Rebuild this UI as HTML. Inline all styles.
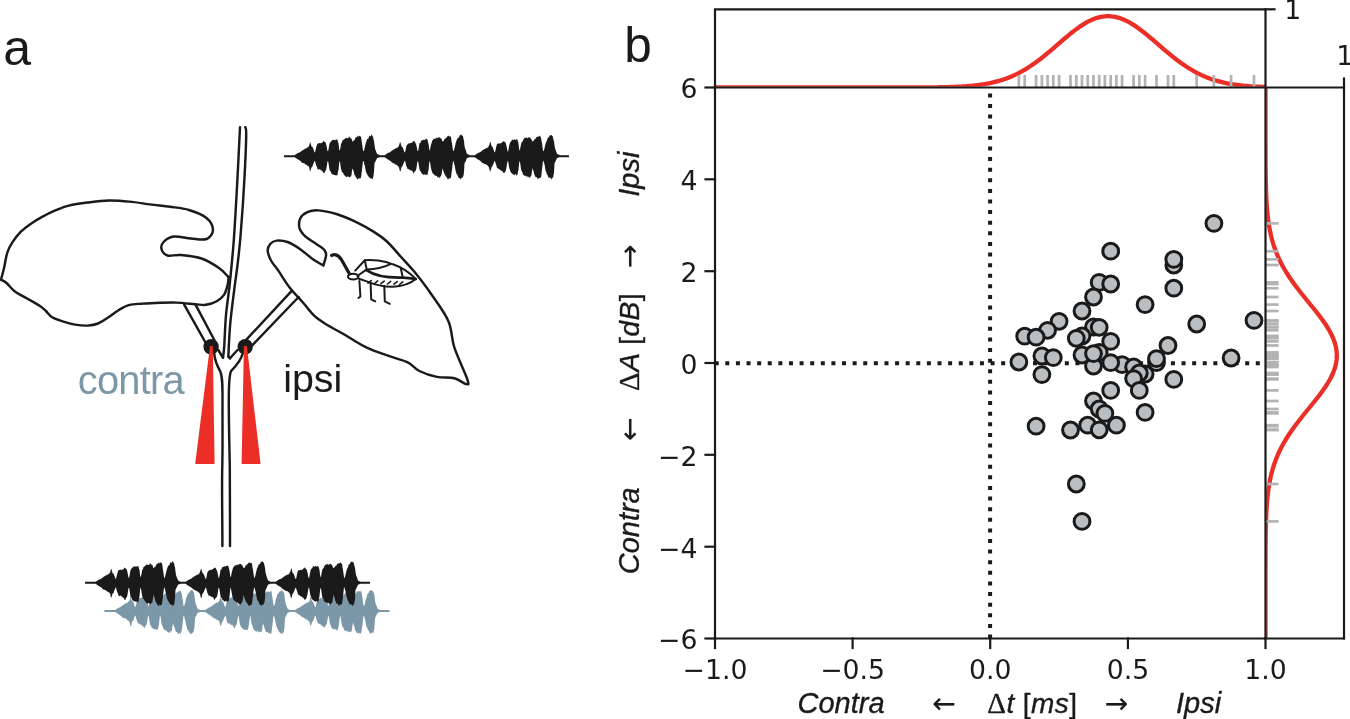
<!DOCTYPE html>
<html lang="en"><head><meta charset="utf-8"><title>Figure: contra / ipsi time and amplitude differences</title>
<style>html,body{margin:0;padding:0;background:#fff}svg{display:block}svg{font-family:"Liberation Sans",sans-serif;fill:#1a1a1a}.dv{font-family:"DejaVu Sans","Liberation Sans",sans-serif;font-size:26.7px}.it{font-style:italic}</style></head><body>
<svg width="1350" height="719" viewBox="0 0 1350 719">
<rect width="1350" height="719" fill="#fff"/>
<g id="panel-a" fill="none" stroke="#1a1a1a" stroke-width="2.45" stroke-linecap="round" stroke-linejoin="round">
<path d="M1.0 279.7C1.9 280.2 4.0 280.9 6.3 282.8C8.6 284.7 11.1 288.6 14.6 291.2C18.1 293.8 22.9 296.1 27.1 298.5C31.3 300.9 36.5 303.7 39.6 305.8C42.7 307.9 43.8 309.1 45.9 311.0C48.0 312.9 49.4 315.6 52.2 317.3C55.0 319.0 58.8 320.2 62.6 321.4C66.4 322.6 70.9 323.9 75.1 324.6C79.3 325.3 83.8 325.8 87.6 325.6C91.4 325.4 94.6 324.9 98.1 323.5C101.6 322.1 105.0 319.6 108.5 317.3C112.0 315.1 115.4 312.1 118.9 310.0C122.4 307.9 125.6 305.9 129.4 304.9C133.2 303.8 138.3 304.0 141.9 303.7C145.5 303.4 145.3 303.4 151.0 303.2C156.7 303.0 168.7 302.4 176.0 302.6C183.3 302.8 190.0 303.8 195.0 304.2C200.0 304.6 202.4 305.3 206.0 304.8C209.6 304.3 213.8 302.9 216.8 301.2C219.8 299.5 222.2 297.6 224.0 294.9C225.8 292.2 226.8 288.0 227.6 285.0C228.4 282.0 228.4 278.3 228.6 277.0"/>
<path d="M228.5 277.0C226.9 275.5 223.5 271.1 219.0 268.0C214.5 264.9 207.8 260.7 201.5 258.5C195.2 256.3 186.7 255.5 181.0 255.0C175.3 254.5 170.8 256.5 167.5 255.5C164.2 254.5 162.1 251.3 161.5 249.0C160.9 246.7 161.9 243.6 164.0 241.5C166.1 239.4 169.5 237.0 174.0 236.5C178.5 236.0 185.6 238.1 191.0 238.5C196.4 238.9 202.8 240.4 206.5 239.0C210.2 237.6 213.0 233.5 213.0 230.0C213.0 226.5 210.5 221.3 206.5 218.0C202.5 214.7 195.1 211.9 189.0 210.0C182.9 208.1 176.5 207.7 170.0 206.8C163.5 205.9 156.8 205.3 150.0 204.4C143.2 203.5 136.3 202.2 129.4 201.6C122.5 200.9 115.5 200.3 108.5 200.5C101.5 200.7 94.2 201.7 87.6 202.5C81.0 203.3 74.4 204.2 68.8 205.6C63.2 207.0 58.7 209.0 54.2 210.9C49.7 212.8 45.5 215.0 41.7 217.1C37.9 219.2 34.8 221.0 31.3 223.4C27.8 225.8 24.0 228.6 20.9 231.7C17.8 234.8 14.8 238.7 12.5 242.2C10.2 245.7 8.7 248.4 7.3 252.6C5.9 256.8 5.2 262.7 4.2 267.2C3.2 271.7 1.5 277.6 1.0 279.7"/>
<path d="M323.4 265.5C323.8 263.7 326.1 257.4 326.1 254.7C326.2 252.0 325.1 250.9 323.7 249.2C322.2 247.5 319.8 246.3 317.4 244.7C315.0 243.0 311.6 241.1 309.2 239.3C306.8 237.5 304.5 235.9 302.9 233.9C301.2 231.9 299.8 230.1 299.3 227.5C298.9 224.9 298.9 221.1 300.2 218.5C301.5 215.9 304.4 213.5 307.4 212.2C310.4 210.8 313.5 210.1 318.3 210.4C323.1 210.7 330.1 212.1 336.4 214.0C342.7 215.9 350.0 219.1 356.3 222.1C362.6 225.1 369.2 228.9 374.3 232.1C379.4 235.3 382.6 237.4 387.0 241.5C391.4 245.6 396.0 251.4 400.6 256.5C405.2 261.6 409.2 265.5 414.4 271.8C419.5 278.1 425.8 286.2 431.5 294.5C437.2 302.8 444.7 312.5 448.5 321.4C452.3 330.3 451.2 338.0 454.4 347.7C457.6 357.4 465.6 373.8 467.5 379.8C469.4 385.9 468.2 384.2 466.0 384.0C463.8 383.8 459.2 379.5 454.4 378.3C449.5 377.1 442.8 378.1 436.9 376.9C431.0 375.7 424.2 373.4 419.3 371.0C414.4 368.6 412.6 364.7 407.7 362.3C402.8 359.9 396.8 358.8 390.0 356.4C383.2 354.0 374.6 351.4 366.8 347.7C359.0 344.0 350.0 337.8 343.4 334.0C336.8 330.2 332.1 328.0 327.3 325.0C322.5 322.0 318.6 319.8 314.7 316.2C310.8 312.6 308.0 308.3 303.8 303.5C299.6 298.7 293.6 292.6 289.4 287.2C285.2 281.8 281.5 275.3 278.5 270.9C275.5 266.5 273.1 264.3 271.3 261.0C269.5 257.7 267.9 253.9 267.7 251.0C267.5 248.1 268.9 245.5 270.4 243.8C271.9 242.1 273.8 240.9 276.7 240.6C279.6 240.3 283.6 240.6 287.5 242.0C291.4 243.4 296.0 246.3 300.2 249.2C304.4 252.1 309.0 256.5 312.9 259.2C316.8 261.9 321.6 264.4 323.4 265.5"/>
<path d="M240.0 127.3C239.6 135.7 238.5 158.7 237.5 177.5C236.5 196.3 235.1 222.1 233.8 240.0C232.5 257.9 230.9 272.5 229.6 285.0C228.3 297.5 226.9 304.7 226.0 315.0C225.1 325.3 224.7 339.6 224.2 346.7C223.7 353.8 223.2 355.8 223.0 357.6"/>
<path d="M245.3 127.3C245.5 128.6 246.3 126.6 246.2 135.0C246.1 143.4 245.4 160.8 244.5 177.5C243.6 194.2 241.8 220.4 240.6 235.0C239.4 249.6 238.6 255.8 237.5 265.0C236.4 274.2 235.4 280.5 234.2 290.0C233.0 299.5 231.3 312.6 230.4 322.0C229.5 331.4 229.1 340.9 228.8 346.7C228.5 352.5 228.5 355.0 228.4 356.6"/>
<path d="M228.4 356.6 L230 358.3"/>
<path d="M184.2 304.6 L205.2 342"/><path d="M195.4 304.4 L214.6 340.5"/>
<path d="M291.7 290.8 L246.8 339.2"/><path d="M298.6 297 L252 345.6"/>
<path d="M218.3 350 L223 357.8"/>
<path d="M214.2 353.3 C214.6 358 215.8 363.3 220 370.8 C222 375 222.6 380 222.5 400 C222.4 430 222.8 450 222.2 470 C221.8 490 222.4 520 222.4 546"/>
<path d="M237.5 350 L230 358.3"/>
<path d="M242.5 354 C241.5 358 239.5 362.5 231.2 370.8 C229.4 374 228.8 380 228.8 400 C228.8 430 229.6 450 229.8 470 C230 490 230 520 230 546"/>
</g>
<g fill="#1a1a1a"><circle cx="211.1" cy="346.7" r="7.7"/><circle cx="245.2" cy="346.7" r="7.7"/></g>
<path d="M210 346 L212.8 346 L214.6 464 L195.2 464 Z" fill="#eb2f27"/>
<path d="M243.9 346 L246.9 346 L260.6 464 L241.6 464 Z" fill="#eb2f27"/>
<g id="bug" fill="none" stroke="#1a1a1a" stroke-width="2.0" stroke-linecap="round" stroke-linejoin="round">
<path d="M331.7 255.4 C335 253.6 338 254.6 341 259 C344 264 347 269.5 349.4 273.8" stroke-width="3.3"/>
<ellipse cx="353.2" cy="276.6" rx="5.3" ry="2.9"/>
<path d="M355.2 270.6 L364.8 260.2 C372 259.4 384 260.6 393 264.3 C399 266.4 408 271 415.8 279 C411 283 402 286.4 393 286.8 C383 287 372 283.6 366.7 281.4 L359 278.8"/>
<path d="M364.8 260.2 L366.7 269.4 L357.4 276"/>
<path d="M366.7 269.4 C376 269.4 384 267.4 390.4 264.2"/>
<path d="M366.9 270.4 C374 275.4 386 278 402.8 277.6 C408 277.8 412 278.4 415.8 279" stroke-width="2.6"/>
<path d="M400.8 268.3 L402.8 277.6"/>
<path d="M368.0 283.2 l3.2 -2.6" stroke-width="1.6"/>
<path d="M374.5 283.5 l3.2 -2.6" stroke-width="1.6"/>
<path d="M381.0 283.7 l3.2 -2.6" stroke-width="1.6"/>
<path d="M387.5 284.0 l3.2 -2.6" stroke-width="1.6"/>
<path d="M394.0 284.2 l3.2 -2.6" stroke-width="1.6"/>
<path d="M399.5 284.5 l3.2 -2.6" stroke-width="1.6"/>
<path d="M359.4 281 L360.4 296.5 L358.4 298"/>
<path d="M370.6 283 L371.2 299.4 L375.2 301.4"/>
<path d="M384.3 286 L384.8 301.4 L389.8 303.8"/>
</g>
<path d="M104.5 610.05L105.0 610.05L105.5 610.05L106.0 610.05L106.5 610.05L107.0 610.05L107.5 610.05L108.0 610.05L108.5 610.05L109.0 610.05L109.5 610.05L110.0 610.05L110.5 610.05L111.0 610.05L111.5 610.05L112.0 610.05L112.5 610.05L113.0 610.05L113.5 610.05L114.0 610.05L114.5 610.05L115.0 610.05L115.5 609.80L116.0 609.41L116.5 609.03L117.0 608.78L117.5 608.46L118.0 608.09L118.5 607.67L119.0 607.76L119.5 607.56L120.0 607.23L120.5 607.00L121.0 606.39L121.5 606.12L122.0 605.96L122.5 605.61L123.0 605.17L123.5 604.46L124.0 604.23L124.5 604.38L125.0 603.62L125.5 603.56L126.0 603.09L126.5 603.22L127.0 603.15L127.5 602.41L128.0 601.89L128.5 601.67L129.0 601.05L129.5 600.57L130.0 599.18L130.5 596.55L131.0 597.30L131.5 599.57L132.0 601.19L132.5 601.08L133.0 601.71L133.5 602.53L134.0 604.13L134.5 605.62L135.0 607.27L135.5 607.06L136.0 604.96L136.5 602.41L137.0 601.04L137.5 599.06L138.0 597.99L138.5 598.52L139.0 598.12L139.5 598.29L140.0 597.93L140.5 597.56L141.0 598.15L141.5 597.31L142.0 598.16L142.5 597.23L143.0 597.21L143.5 596.39L144.0 595.18L144.5 595.06L145.0 596.84L145.5 597.31L146.0 597.92L146.5 598.09L147.0 600.05L147.5 602.96L148.0 606.06L148.5 606.46L149.0 604.08L149.5 601.21L150.0 598.34L150.5 597.59L151.0 597.64L151.5 596.33L152.0 595.03L152.5 595.44L153.0 594.72L153.5 595.27L154.0 595.03L154.5 594.48L155.0 594.28L155.5 594.95L156.0 594.13L156.5 594.61L157.0 593.53L157.5 593.82L158.0 594.67L158.5 596.77L159.0 598.22L159.5 602.74L160.0 605.31L160.5 604.94L161.0 602.39L161.5 599.28L162.0 597.30L162.5 597.25L163.0 595.88L163.5 595.16L164.0 594.77L164.5 594.12L165.0 593.58L165.5 593.41L166.0 592.24L166.5 592.79L167.0 592.27L167.5 592.83L168.0 592.41L168.5 591.53L169.0 591.85L169.5 591.48L170.0 592.17L170.5 592.71L171.0 592.36L171.5 592.25L172.0 593.35L172.5 594.61L173.0 596.48L173.5 596.31L174.0 595.56L174.5 594.97L175.0 594.70L175.5 594.11L176.0 592.78L176.5 592.57L177.0 592.75L177.5 591.88L178.0 592.17L178.5 590.48L179.0 591.36L179.5 591.38L180.0 590.91L180.5 590.63L181.0 592.02L181.5 592.88L182.0 595.32L182.5 598.87L183.0 601.78L183.5 605.69L184.0 606.16L184.5 604.85L185.0 603.28L185.5 601.52L186.0 598.51L186.5 596.88L187.0 596.30L187.5 594.27L188.0 594.53L188.5 593.25L189.0 592.65L189.5 592.17L190.0 591.59L190.5 590.81L191.0 589.99L191.5 589.95L192.0 590.57L192.5 589.67L193.0 590.95L193.5 592.23L194.0 592.88L194.5 596.06L195.0 600.20L195.5 603.14L196.0 604.42L196.5 606.00L197.0 607.09L197.5 608.40L198.0 609.05L198.5 609.16L199.0 609.40L199.5 609.64L200.0 609.89L200.5 610.05L201.0 610.05L201.5 610.05L202.0 610.05L202.5 610.05L203.0 610.05L203.5 610.05L204.0 610.05L204.5 610.05L205.0 610.05L205.5 609.80L206.0 609.41L206.5 609.03L207.0 608.74L207.5 608.46L208.0 607.92L208.5 607.83L209.0 607.57L209.5 607.46L210.0 607.08L210.5 607.10L211.0 606.66L211.5 606.32L212.0 606.08L212.5 605.22L213.0 604.94L213.5 605.02L214.0 604.19L214.5 604.34L215.0 603.84L215.5 603.29L216.0 602.97L216.5 602.98L217.0 602.50L217.5 602.72L218.0 601.88L218.5 601.68L219.0 601.48L219.5 600.60L220.0 599.04L220.5 596.97L221.0 597.57L221.5 599.18L222.0 601.00L222.5 601.74L223.0 601.51L223.5 602.80L224.0 604.13L224.5 605.84L225.0 607.18L225.5 606.98L226.0 604.79L226.5 602.70L227.0 601.04L227.5 599.81L228.0 598.06L228.5 598.61L229.0 597.85L229.5 598.43L230.0 597.72L230.5 597.90L231.0 597.71L231.5 597.54L232.0 597.08L232.5 597.54L233.0 597.00L233.5 596.48L234.0 595.92L234.5 595.58L235.0 595.73L235.5 596.40L236.0 597.73L236.5 597.97L237.0 600.79L237.5 603.06L238.0 605.62L238.5 606.10L239.0 604.02L239.5 600.91L240.0 598.19L240.5 597.48L241.0 597.01L241.5 596.91L242.0 596.26L242.5 595.27L243.0 595.61L243.5 595.11L244.0 595.04L244.5 594.18L245.0 593.88L245.5 593.88L246.0 595.19L246.5 594.08L247.0 593.96L247.5 594.56L248.0 594.33L248.5 597.17L249.0 598.32L249.5 602.15L250.0 605.54L250.5 604.45L251.0 602.40L251.5 599.09L252.0 597.19L252.5 596.65L253.0 594.95L253.5 594.12L254.0 593.64L254.5 593.70L255.0 592.63L255.5 593.97L256.0 593.05L256.5 592.95L257.0 592.43L257.5 592.68L258.0 592.63L258.5 591.82L259.0 592.25L259.5 592.16L260.0 592.45L260.5 593.24L261.0 592.72L261.5 592.63L262.0 593.40L262.5 595.59L263.0 596.40L263.5 595.56L264.0 594.89L264.5 594.96L265.0 593.50L265.5 592.85L266.0 592.63L266.5 591.70L267.0 591.59L267.5 591.79L268.0 591.73L268.5 591.35L269.0 591.73L269.5 591.99L270.0 591.52L270.5 591.72L271.0 590.45L271.5 591.46L272.0 595.44L272.5 597.78L273.0 601.90L273.5 605.20L274.0 606.19L274.5 605.31L275.0 603.13L275.5 601.13L276.0 598.51L276.5 597.60L277.0 595.32L277.5 594.12L278.0 593.65L278.5 593.57L279.0 592.08L279.5 591.66L280.0 590.99L280.5 591.57L281.0 591.30L281.5 589.24L282.0 589.92L282.5 591.48L283.0 591.18L283.5 592.22L284.0 593.21L284.5 595.75L285.0 599.84L285.5 602.96L286.0 604.33L286.5 605.99L287.0 607.20L287.5 608.41L288.0 609.01L288.5 609.16L289.0 609.40L289.5 609.64L290.0 609.89L290.5 610.05L291.0 610.05L291.5 610.05L292.0 610.05L292.5 610.05L293.0 610.05L293.5 610.05L294.0 610.05L294.5 610.05L295.0 610.05L295.5 609.80L296.0 609.41L296.5 609.03L297.0 608.66L297.5 608.29L298.0 608.14L298.5 607.90L299.0 607.68L299.5 607.47L300.0 607.19L300.5 606.98L301.0 606.47L301.5 606.13L302.0 605.74L302.5 605.44L303.0 605.04L303.5 604.94L304.0 604.53L304.5 604.09L305.0 603.67L305.5 603.66L306.0 603.15L306.5 602.77L307.0 602.91L307.5 602.70L308.0 602.54L308.5 602.02L309.0 601.72L309.5 601.17L310.0 599.03L310.5 597.11L311.0 596.65L311.5 599.49L312.0 601.40L312.5 601.42L313.0 601.74L313.5 603.02L314.0 604.59L314.5 605.71L315.0 607.18L315.5 607.19L316.0 605.16L316.5 602.56L317.0 600.87L317.5 599.20L318.0 598.79L318.5 597.87L319.0 598.71L319.5 598.51L320.0 598.06L320.5 598.57L321.0 597.65L321.5 598.31L322.0 596.94L322.5 597.43L323.0 596.68L323.5 596.58L324.0 596.09L324.5 595.10L325.0 596.83L325.5 596.77L326.0 597.94L326.5 598.24L327.0 600.74L327.5 602.81L328.0 605.65L328.5 606.10L329.0 603.83L329.5 601.44L330.0 598.81L330.5 598.27L331.0 597.20L331.5 595.78L332.0 594.99L332.5 594.82L333.0 595.21L333.5 594.22L334.0 594.84L334.5 594.11L335.0 594.42L335.5 594.53L336.0 595.15L336.5 594.78L337.0 593.98L337.5 594.18L338.0 595.09L338.5 596.41L339.0 598.40L339.5 602.78L340.0 605.28L340.5 604.92L341.0 601.61L341.5 598.97L342.0 597.19L342.5 596.11L343.0 596.30L343.5 594.63L344.0 593.69L344.5 594.35L345.0 593.82L345.5 592.37L346.0 592.96L346.5 592.92L347.0 592.26L347.5 592.51L348.0 591.74L348.5 593.12L349.0 592.19L349.5 591.84L350.0 592.12L350.5 593.22L351.0 593.04L351.5 592.29L352.0 593.57L352.5 595.67L353.0 596.48L353.5 596.51L354.0 594.98L354.5 594.73L355.0 594.98L355.5 593.47L356.0 592.95L356.5 592.69L357.0 591.33L357.5 590.91L358.0 592.18L358.5 590.64L359.0 591.75L359.5 591.33L360.0 590.65L360.5 591.96L361.0 590.55L361.5 591.64L362.0 594.99L362.5 597.88L363.0 602.26L363.5 605.22L364.0 606.32L364.5 604.98L365.0 603.38L365.5 601.02L366.0 598.79L366.5 597.48L367.0 595.87L367.5 593.87L368.0 593.61L368.5 593.26L369.0 591.62L369.5 590.89L370.0 590.81L370.5 590.36L371.0 590.68L371.5 589.77L372.0 590.50L372.5 591.43L373.0 590.66L373.5 592.31L374.0 593.59L374.5 596.21L375.0 600.43L375.5 603.19L376.0 604.26L376.5 605.82L377.0 607.06L377.5 608.39L378.0 608.98L378.5 609.16L379.0 609.40L379.5 609.64L380.0 609.89L380.5 610.05L381.0 610.05L381.5 610.05L382.0 610.05L382.5 610.05L383.0 610.05L383.5 610.05L384.0 610.05L384.5 610.05L385.0 610.05L385.5 610.05L386.0 610.05L386.5 610.05L387.0 610.05L387.5 610.05L388.0 610.05L388.5 610.05L389.0 610.05L389.5 610.05L389.5 611.95L389.0 611.95L388.5 611.95L388.0 611.95L387.5 611.95L387.0 611.95L386.5 611.95L386.0 611.95L385.5 611.95L385.0 611.95L384.5 611.95L384.0 611.95L383.5 611.95L383.0 611.95L382.5 611.95L382.0 611.95L381.5 611.95L381.0 611.95L380.5 611.95L380.0 612.06L379.5 612.22L379.0 612.37L378.5 612.53L378.0 612.69L377.5 613.07L377.0 614.04L376.5 615.04L376.0 616.17L375.5 616.94L375.0 618.30L374.5 627.25L374.0 629.63L373.5 633.05L373.0 633.26L372.5 631.95L372.0 632.43L371.5 633.66L371.0 632.78L370.5 633.48L370.0 634.05L369.5 632.57L369.0 631.58L368.5 630.27L368.0 630.04L367.5 628.64L367.0 627.50L366.5 627.09L366.0 624.37L365.5 621.79L365.0 619.14L364.5 617.69L364.0 615.90L363.5 615.92L363.0 619.72L362.5 624.57L362.0 627.82L361.5 631.44L361.0 633.22L360.5 634.13L360.0 632.35L359.5 634.08L359.0 632.42L358.5 634.40L358.0 632.34L357.5 633.15L357.0 632.75L356.5 632.78L356.0 631.60L355.5 630.78L355.0 629.98L354.5 627.07L354.0 625.76L353.5 624.00L353.0 622.28L352.5 625.60L352.0 629.50L351.5 630.91L351.0 632.52L350.5 631.53L350.0 631.82L349.5 631.56L349.0 632.81L348.5 631.37L348.0 631.97L347.5 631.41L347.0 630.26L346.5 631.81L346.0 631.00L345.5 631.05L345.0 630.59L344.5 630.61L344.0 629.39L343.5 627.83L343.0 627.56L342.5 626.46L342.0 625.54L341.5 623.21L341.0 620.07L340.5 616.58L340.0 615.82L339.5 619.24L339.0 624.23L338.5 627.18L338.0 628.54L337.5 630.20L337.0 630.54L336.5 629.39L336.0 630.46L335.5 628.81L335.0 629.20L334.5 629.20L334.0 629.42L333.5 629.21L333.0 628.48L332.5 628.80L332.0 628.43L331.5 627.67L331.0 625.52L330.5 624.69L330.0 624.15L329.5 621.02L329.0 617.98L328.5 615.70L328.0 616.46L327.5 619.69L327.0 622.65L326.5 624.49L326.0 624.95L325.5 625.83L325.0 626.43L324.5 627.95L324.0 627.46L323.5 626.80L323.0 626.67L322.5 625.64L322.0 625.92L321.5 625.43L321.0 624.50L320.5 624.58L320.0 624.14L319.5 624.11L319.0 623.39L318.5 623.62L318.0 623.86L317.5 622.29L317.0 620.86L316.5 619.71L316.0 617.79L315.5 615.81L315.0 615.73L314.5 617.32L314.0 618.45L313.5 619.62L313.0 621.34L312.5 621.84L312.0 621.87L311.5 624.14L311.0 625.81L310.5 625.91L310.0 623.63L309.5 621.72L309.0 621.14L308.5 621.26L308.0 620.62L307.5 620.15L307.0 619.37L306.5 619.45L306.0 619.41L305.5 618.82L305.0 618.52L304.5 618.15L304.0 618.01L303.5 617.62L303.0 617.36L302.5 617.27L302.0 616.98L301.5 616.68L301.0 616.02L300.5 615.45L300.0 615.32L299.5 614.74L299.0 614.44L298.5 614.33L298.0 614.06L297.5 613.56L297.0 613.32L296.5 612.97L296.0 612.59L295.5 612.20L295.0 611.95L294.5 611.95L294.0 611.95L293.5 611.95L293.0 611.95L292.5 611.95L292.0 611.95L291.5 611.95L291.0 611.95L290.5 611.95L290.0 612.06L289.5 612.22L289.0 612.37L288.5 612.53L288.0 612.69L287.5 612.93L287.0 614.06L286.5 614.93L286.0 615.86L285.5 617.22L285.0 618.00L284.5 626.98L284.0 630.45L283.5 632.42L283.0 632.62L282.5 633.93L282.0 634.29L281.5 633.06L281.0 633.49L280.5 633.30L280.0 632.50L279.5 632.47L279.0 630.77L278.5 631.53L278.0 629.26L277.5 628.74L277.0 627.78L276.5 626.22L276.0 624.33L275.5 622.03L275.0 619.57L274.5 617.60L274.0 615.67L273.5 615.91L273.0 620.28L272.5 624.26L272.0 628.62L271.5 632.41L271.0 633.98L270.5 633.40L270.0 633.72L269.5 632.83L269.0 633.07L268.5 633.50L268.0 632.60L267.5 632.09L267.0 632.15L266.5 632.19L266.0 631.44L265.5 630.91L265.0 629.13L264.5 628.23L264.0 626.26L263.5 624.83L263.0 623.25L262.5 625.74L262.0 630.92L261.5 632.17L261.0 630.99L260.5 632.19L260.0 631.56L259.5 632.36L259.0 631.95L258.5 632.68L258.0 630.85L257.5 630.54L257.0 631.91L256.5 631.75L256.0 630.96L255.5 631.18L255.0 631.18L254.5 630.08L254.0 629.56L253.5 628.71L253.0 628.03L252.5 625.80L252.0 624.70L251.5 623.88L251.0 619.98L250.5 616.56L250.0 615.79L249.5 619.64L249.0 623.88L248.5 626.65L248.0 628.96L247.5 630.54L247.0 629.45L246.5 629.84L246.0 629.94L245.5 629.80L245.0 629.99L244.5 629.88L244.0 628.81L243.5 629.40L243.0 629.53L242.5 628.77L242.0 627.66L241.5 627.27L241.0 626.86L240.5 625.66L240.0 624.85L239.5 621.57L239.0 617.89L238.5 615.81L238.0 616.43L237.5 619.47L237.0 622.50L236.5 624.78L236.0 625.18L235.5 625.77L235.0 627.58L234.5 628.57L234.0 627.44L233.5 626.88L233.0 625.72L232.5 625.36L232.0 624.95L231.5 625.17L231.0 624.49L230.5 624.66L230.0 624.02L229.5 623.62L229.0 623.28L228.5 624.03L228.0 623.00L227.5 622.92L227.0 621.70L226.5 619.66L226.0 617.38L225.5 615.71L225.0 615.93L224.5 617.33L224.0 618.38L223.5 619.76L223.0 621.28L222.5 621.33L222.0 622.17L221.5 624.11L221.0 625.75L220.5 626.06L220.0 624.48L219.5 622.61L219.0 620.87L218.5 620.77L218.0 620.48L217.5 619.66L217.0 619.52L216.5 619.67L216.0 619.39L215.5 618.75L215.0 618.65L214.5 618.60L214.0 618.26L213.5 617.76L213.0 617.58L212.5 617.19L212.0 616.81L211.5 616.20L211.0 616.19L210.5 615.36L210.0 615.24L209.5 614.73L209.0 614.68L208.5 614.27L208.0 613.98L207.5 613.51L207.0 613.29L206.5 612.97L206.0 612.59L205.5 612.20L205.0 611.95L204.5 611.95L204.0 611.95L203.5 611.95L203.0 611.95L202.5 611.95L202.0 611.95L201.5 611.95L201.0 611.95L200.5 611.95L200.0 612.06L199.5 612.22L199.0 612.37L198.5 612.53L198.0 612.69L197.5 612.93L197.0 613.93L196.5 615.18L196.0 616.15L195.5 616.89L195.0 618.08L194.5 626.96L194.0 629.55L193.5 632.11L193.0 631.74L192.5 633.48L192.0 633.16L191.5 634.03L191.0 633.63L190.5 633.72L190.0 633.47L189.5 633.11L189.0 631.38L188.5 630.86L188.0 630.42L187.5 629.69L187.0 628.23L186.5 625.91L186.0 624.39L185.5 621.53L185.0 619.68L184.5 617.60L184.0 615.85L183.5 615.75L183.0 620.04L182.5 624.60L182.0 628.66L181.5 631.13L181.0 633.32L180.5 633.59L180.0 633.38L179.5 632.49L179.0 634.15L178.5 633.24L178.0 634.19L177.5 633.21L177.0 631.71L176.5 631.90L176.0 631.88L175.5 630.10L175.0 629.62L174.5 627.10L174.0 626.39L173.5 625.02L173.0 623.36L172.5 625.72L172.0 630.34L171.5 631.61L171.0 630.84L170.5 631.63L170.0 632.24L169.5 633.04L169.0 632.55L168.5 632.45L168.0 632.07L167.5 632.23L167.0 630.81L166.5 630.69L166.0 631.41L165.5 630.18L165.0 629.83L164.5 629.88L164.0 629.00L163.5 629.09L163.0 627.28L162.5 626.46L162.0 624.78L161.5 623.38L161.0 619.61L160.5 616.49L160.0 615.60L159.5 619.04L159.0 624.30L158.5 626.43L158.0 628.71L157.5 629.64L157.0 629.78L156.5 629.64L156.0 628.92L155.5 629.29L155.0 629.55L154.5 629.01L154.0 628.76L153.5 628.71L153.0 628.40L152.5 628.11L152.0 628.32L151.5 627.32L151.0 626.01L150.5 624.65L150.0 624.87L149.5 621.54L149.0 617.99L148.5 615.77L148.0 616.09L147.5 619.48L147.0 622.25L146.5 624.83L146.0 625.14L145.5 625.68L145.0 627.69L144.5 627.93L144.0 627.16L143.5 627.14L143.0 625.76L142.5 626.15L142.0 625.36L141.5 625.62L141.0 624.00L140.5 624.77L140.0 624.57L139.5 624.24L139.0 623.34L138.5 623.19L138.0 623.72L137.5 621.96L137.0 620.90L136.5 619.32L136.0 617.44L135.5 615.81L135.0 615.55L134.5 616.95L134.0 618.21L133.5 620.34L133.0 620.96L132.5 621.07L132.0 621.56L131.5 624.40L131.0 626.45L130.5 626.10L130.0 624.07L129.5 622.34L129.0 621.13L128.5 620.77L128.0 620.81L127.5 620.27L127.0 619.75L126.5 618.97L126.0 618.75L125.5 618.71L125.0 618.26L124.5 618.10L124.0 618.32L123.5 617.65L123.0 617.90L122.5 617.61L122.0 617.11L121.5 616.23L121.0 616.10L120.5 615.46L120.0 615.23L119.5 614.99L119.0 614.51L118.5 614.28L118.0 613.86L117.5 613.50L117.0 613.19L116.5 612.97L116.0 612.59L115.5 612.20L115.0 611.95L114.5 611.95L114.0 611.95L113.5 611.95L113.0 611.95L112.5 611.95L112.0 611.95L111.5 611.95L111.0 611.95L110.5 611.95L110.0 611.95L109.5 611.95L109.0 611.95L108.5 611.95L108.0 611.95L107.5 611.95L107.0 611.95L106.5 611.95L106.0 611.95L105.5 611.95L105.0 611.95L104.5 611.95Z" fill="#7c97a7"/>
<path d="M85.0 581.85L85.5 581.85L86.0 581.85L86.5 581.85L87.0 581.85L87.5 581.85L88.0 581.85L88.5 581.85L89.0 581.85L89.5 581.85L90.0 581.85L90.5 581.85L91.0 581.85L91.5 581.85L92.0 581.85L92.5 581.85L93.0 581.85L93.5 581.85L94.0 581.85L94.5 581.85L95.0 581.85L95.5 581.85L96.0 581.60L96.5 581.21L97.0 580.83L97.5 580.50L98.0 580.16L98.5 579.86L99.0 579.46L99.5 579.34L100.0 579.40L100.5 579.16L101.0 578.83L101.5 578.45L102.0 578.03L102.5 577.72L103.0 577.39L103.5 576.79L104.0 576.77L104.5 576.35L105.0 576.01L105.5 575.49L106.0 575.29L106.5 575.38L107.0 574.60L107.5 575.00L108.0 574.43L108.5 573.99L109.0 573.51L109.5 573.37L110.0 572.70L110.5 571.02L111.0 568.82L111.5 569.31L112.0 571.30L112.5 572.95L113.0 573.61L113.5 573.44L114.0 574.97L114.5 575.88L115.0 577.52L115.5 578.84L116.0 579.05L116.5 576.81L117.0 574.68L117.5 572.92L118.0 571.37L118.5 570.05L119.0 570.31L119.5 569.75L120.0 570.17L120.5 569.40L121.0 569.65L121.5 570.21L122.0 569.48L122.5 569.52L123.0 569.22L123.5 569.47L124.0 568.16L124.5 567.24L125.0 568.22L125.5 568.24L126.0 568.70L126.5 568.96L127.0 570.51L127.5 572.33L128.0 575.04L128.5 577.72L129.0 577.84L129.5 576.01L130.0 572.80L130.5 570.36L131.0 569.37L131.5 568.66L132.0 567.85L132.5 567.82L133.0 566.92L133.5 566.45L134.0 567.12L134.5 566.10L135.0 566.80L135.5 566.14L136.0 566.85L136.5 566.81L137.0 565.92L137.5 566.70L138.0 565.58L138.5 566.58L139.0 568.78L139.5 569.83L140.0 574.59L140.5 577.35L141.0 576.30L141.5 574.04L142.0 570.89L142.5 569.42L143.0 569.03L143.5 566.68L144.0 567.19L144.5 566.03L145.0 566.34L145.5 565.58L146.0 565.25L146.5 564.48L147.0 564.23L147.5 564.70L148.0 564.94L148.5 564.97L149.0 564.86L149.5 564.68L150.0 562.96L150.5 563.45L151.0 564.60L151.5 564.46L152.0 565.08L152.5 565.11L153.0 566.95L153.5 568.25L154.0 568.00L154.5 566.82L155.0 567.29L155.5 566.51L156.0 565.61L156.5 564.03L157.0 563.80L157.5 563.59L158.0 563.99L158.5 562.43L159.0 562.31L159.5 563.83L160.0 562.17L160.5 562.60L161.0 562.66L161.5 563.10L162.0 563.30L162.5 566.42L163.0 570.36L163.5 573.29L164.0 577.17L164.5 578.18L165.0 577.03L165.5 575.07L166.0 573.06L166.5 570.77L167.0 568.92L167.5 567.75L168.0 565.77L168.5 565.42L169.0 565.61L169.5 564.90L170.0 563.10L170.5 562.19L171.0 562.85L171.5 562.75L172.0 562.29L172.5 561.10L173.0 561.41L173.5 563.35L174.0 562.57L174.5 566.10L175.0 567.30L175.5 571.39L176.0 575.08L176.5 576.56L177.0 577.77L177.5 579.06L178.0 580.35L178.5 580.86L179.0 580.96L179.5 581.20L180.0 581.44L180.5 581.69L181.0 581.85L181.5 581.85L182.0 581.85L182.5 581.85L183.0 581.85L183.5 581.85L184.0 581.85L184.5 581.85L185.0 581.85L185.5 581.85L186.0 581.60L186.5 581.21L187.0 580.83L187.5 580.65L188.0 580.15L188.5 579.92L189.0 579.51L189.5 579.46L190.0 579.19L190.5 579.00L191.0 578.75L191.5 578.40L192.0 577.98L192.5 577.47L193.0 577.38L193.5 576.91L194.0 576.64L194.5 576.00L195.0 576.03L195.5 575.57L196.0 575.49L196.5 574.93L197.0 574.94L197.5 574.44L198.0 574.69L198.5 574.15L199.0 573.94L199.5 573.08L200.0 572.06L200.5 570.48L201.0 568.41L201.5 569.19L202.0 571.39L202.5 572.84L203.0 573.61L203.5 573.68L204.0 574.87L204.5 576.07L205.0 577.79L205.5 578.82L206.0 578.99L206.5 577.00L207.0 574.31L207.5 572.32L208.0 571.58L208.5 570.74L209.0 570.63L209.5 570.02L210.0 569.54L210.5 570.36L211.0 569.70L211.5 569.94L212.0 569.32L212.5 569.32L213.0 569.26L213.5 568.75L214.0 567.73L214.5 567.85L215.0 568.09L215.5 567.61L216.0 568.64L216.5 569.88L217.0 570.56L217.5 572.51L218.0 575.10L218.5 577.70L219.0 577.88L219.5 575.79L220.0 573.19L220.5 569.87L221.0 569.71L221.5 569.35L222.0 567.61L222.5 566.90L223.0 567.15L223.5 566.82L224.0 566.59L224.5 566.08L225.0 566.83L225.5 566.48L226.0 566.12L226.5 566.07L227.0 565.46L227.5 565.70L228.0 565.79L228.5 566.38L229.0 568.74L229.5 570.62L230.0 574.16L230.5 576.98L231.0 576.65L231.5 573.52L232.0 571.33L232.5 569.83L233.0 567.98L233.5 566.95L234.0 566.71L234.5 565.74L235.0 564.89L235.5 565.82L236.0 564.78L236.5 564.98L237.0 565.51L237.5 564.20L238.0 564.38L238.5 564.66L239.0 564.59L239.5 563.96L240.0 563.76L240.5 564.09L241.0 564.32L241.5 564.51L242.0 565.67L242.5 564.92L243.0 567.16L243.5 568.26L244.0 567.36L244.5 567.92L245.0 567.21L245.5 565.41L246.0 565.56L246.5 565.16L247.0 563.93L247.5 564.50L248.0 563.37L248.5 563.22L249.0 562.15L249.5 562.38L250.0 562.93L250.5 563.01L251.0 563.22L251.5 562.87L252.0 563.68L252.5 567.57L253.0 569.94L253.5 573.68L254.0 577.09L254.5 577.92L255.0 576.66L255.5 574.90L256.0 572.76L256.5 570.48L257.0 568.47L257.5 567.69L258.0 565.69L258.5 565.39L259.0 564.11L259.5 564.02L260.0 564.38L260.5 562.14L261.0 561.90L261.5 561.88L262.0 560.94L262.5 561.44L263.0 562.29L263.5 562.46L264.0 562.88L264.5 565.69L265.0 567.40L265.5 572.27L266.0 574.58L266.5 576.04L267.0 577.40L267.5 579.02L268.0 580.23L268.5 580.81L269.0 580.96L269.5 581.20L270.0 581.44L270.5 581.69L271.0 581.85L271.5 581.85L272.0 581.85L272.5 581.85L273.0 581.85L273.5 581.85L274.0 581.85L274.5 581.85L275.0 581.85L275.5 581.85L276.0 581.60L276.5 581.21L277.0 580.83L277.5 580.62L278.0 580.30L278.5 579.77L279.0 579.74L279.5 579.35L280.0 579.10L280.5 578.98L281.0 578.94L281.5 578.50L282.0 578.17L282.5 577.84L283.0 577.21L283.5 577.06L284.0 576.42L284.5 576.35L285.0 576.01L285.5 575.55L286.0 575.48L286.5 575.08L287.0 575.01L287.5 574.44L288.0 574.44L288.5 574.29L289.0 573.98L289.5 573.14L290.0 572.11L290.5 571.14L291.0 568.68L291.5 568.28L292.0 570.55L292.5 572.42L293.0 573.39L293.5 573.40L294.0 574.49L294.5 576.08L295.0 577.62L295.5 578.93L296.0 578.80L296.5 576.93L297.0 574.14L297.5 572.27L298.0 570.92L298.5 569.94L299.0 570.33L299.5 570.43L300.0 569.85L300.5 569.89L301.0 570.28L301.5 570.11L302.0 569.58L302.5 569.63L303.0 568.95L303.5 568.33L304.0 568.58L304.5 567.83L305.0 567.12L305.5 568.85L306.0 568.72L306.5 569.21L307.0 570.86L307.5 572.58L308.0 574.99L308.5 577.63L309.0 578.25L309.5 576.18L310.0 573.28L310.5 570.84L311.0 569.28L311.5 568.42L312.0 568.44L312.5 567.45L313.0 566.12L313.5 566.39L314.0 566.42L314.5 566.95L315.0 565.89L315.5 566.28L316.0 565.80L316.5 566.57L317.0 566.93L317.5 565.90L318.0 565.72L318.5 566.57L319.0 568.18L319.5 569.95L320.0 574.66L320.5 577.08L321.0 576.70L321.5 573.47L322.0 571.10L322.5 568.96L323.0 568.83L323.5 568.10L324.0 567.34L324.5 565.63L325.0 565.54L325.5 564.43L326.0 564.30L326.5 564.41L327.0 564.55L327.5 563.76L328.0 564.63L328.5 564.98L329.0 563.67L329.5 564.43L330.0 563.85L330.5 564.12L331.0 563.74L331.5 564.85L332.0 565.58L332.5 565.78L333.0 567.45L333.5 568.33L334.0 567.49L334.5 567.56L335.0 566.72L335.5 565.76L336.0 565.89L336.5 565.58L337.0 563.88L337.5 563.57L338.0 564.08L338.5 563.45L339.0 563.15L339.5 562.92L340.0 563.33L340.5 562.20L341.0 562.70L341.5 563.68L342.0 564.11L342.5 567.60L343.0 569.96L343.5 573.50L344.0 577.47L344.5 577.97L345.0 576.74L345.5 574.94L346.0 572.67L346.5 570.52L347.0 569.01L347.5 568.18L348.0 566.92L348.5 565.18L349.0 564.14L349.5 564.17L350.0 563.62L350.5 562.40L351.0 561.86L351.5 561.56L352.0 562.17L352.5 561.18L353.0 562.86L353.5 562.25L354.0 564.00L354.5 566.23L355.0 567.80L355.5 571.67L356.0 574.79L356.5 576.07L357.0 577.55L357.5 578.81L358.0 580.40L358.5 580.90L359.0 580.96L359.5 581.20L360.0 581.44L360.5 581.69L361.0 581.85L361.5 581.85L362.0 581.85L362.5 581.85L363.0 581.85L363.5 581.85L364.0 581.85L364.5 581.85L365.0 581.85L365.5 581.85L366.0 581.85L366.5 581.85L367.0 581.85L367.5 581.85L368.0 581.85L368.5 581.85L369.0 581.85L369.5 581.85L370.0 581.85L370.0 583.75L369.5 583.75L369.0 583.75L368.5 583.75L368.0 583.75L367.5 583.75L367.0 583.75L366.5 583.75L366.0 583.75L365.5 583.75L365.0 583.75L364.5 583.75L364.0 583.75L363.5 583.75L363.0 583.75L362.5 583.75L362.0 583.75L361.5 583.75L361.0 583.75L360.5 583.86L360.0 584.02L359.5 584.17L359.0 584.33L358.5 584.49L358.0 584.70L357.5 585.92L357.0 586.70L356.5 588.08L356.0 589.14L355.5 589.64L355.0 599.47L354.5 601.79L354.0 604.90L353.5 603.73L353.0 605.44L352.5 606.08L352.0 605.21L351.5 604.44L351.0 604.32L350.5 603.90L350.0 605.05L349.5 603.83L349.0 603.05L348.5 601.02L348.0 601.74L347.5 599.42L347.0 598.00L346.5 596.76L346.0 593.94L345.5 590.93L345.0 589.71L344.5 587.69L344.0 587.35L343.5 591.88L343.0 595.98L342.5 600.59L342.0 604.34L341.5 603.92L341.0 604.92L340.5 604.68L340.0 604.25L339.5 605.66L339.0 605.08L338.5 605.92L338.0 603.81L337.5 603.75L337.0 603.79L336.5 603.65L336.0 602.25L335.5 601.36L335.0 599.77L334.5 597.26L334.0 596.70L333.5 594.62L333.0 597.85L332.5 601.20L332.0 603.29L331.5 602.65L331.0 604.56L330.5 604.24L330.0 603.26L329.5 603.16L329.0 604.25L328.5 602.75L328.0 602.82L327.5 603.10L327.0 603.22L326.5 602.02L326.0 602.74L325.5 602.05L325.0 601.82L324.5 601.77L324.0 601.11L323.5 598.98L323.0 598.28L322.5 597.43L322.0 595.60L321.5 591.77L321.0 588.65L320.5 587.66L320.0 590.86L319.5 596.33L319.0 598.14L318.5 600.99L318.0 601.81L317.5 602.26L317.0 600.92L316.5 600.66L316.0 600.96L315.5 602.06L315.0 601.51L314.5 601.37L314.0 600.43L313.5 600.80L313.0 600.12L312.5 599.54L312.0 599.18L311.5 598.57L311.0 596.52L310.5 595.69L310.0 593.22L309.5 589.96L309.0 587.37L308.5 588.10L308.0 590.90L307.5 593.89L307.0 596.25L306.5 597.80L306.0 598.73L305.5 599.18L305.0 599.96L304.5 599.45L304.0 598.94L303.5 597.95L303.0 597.61L302.5 597.78L302.0 596.87L301.5 596.82L301.0 596.01L300.5 596.45L300.0 595.69L299.5 595.20L299.0 595.32L298.5 594.95L298.0 594.27L297.5 592.66L297.0 590.95L296.5 589.65L296.0 587.74L295.5 587.69L295.0 588.73L294.5 590.13L294.0 591.71L293.5 592.39L293.0 593.63L292.5 593.57L292.0 596.17L291.5 597.42L291.0 598.43L290.5 596.33L290.0 594.04L289.5 593.23L289.0 592.44L288.5 592.27L288.0 591.46L287.5 591.11L287.0 591.45L286.5 590.69L286.0 590.99L285.5 590.64L285.0 590.23L284.5 589.85L284.0 589.91L283.5 589.48L283.0 589.36L282.5 588.80L282.0 588.21L281.5 587.65L281.0 587.42L280.5 586.86L280.0 586.69L279.5 586.24L279.0 586.20L278.5 585.75L278.0 585.53L277.5 584.96L277.0 584.77L276.5 584.39L276.0 584.00L275.5 583.75L275.0 583.75L274.5 583.75L274.0 583.75L273.5 583.75L273.0 583.75L272.5 583.75L272.0 583.75L271.5 583.75L271.0 583.75L270.5 583.86L270.0 584.02L269.5 584.17L269.0 584.33L268.5 584.49L268.0 584.70L267.5 585.71L267.0 587.03L266.5 588.05L266.0 589.20L265.5 589.90L265.0 598.60L264.5 602.13L264.0 603.37L263.5 604.89L263.0 603.87L262.5 604.54L262.0 605.04L261.5 606.30L261.0 604.91L260.5 604.91L260.0 604.71L259.5 604.30L259.0 602.79L258.5 601.48L258.0 600.99L257.5 600.32L257.0 598.84L256.5 596.83L256.0 593.76L255.5 591.55L255.0 589.50L254.5 587.51L254.0 587.77L253.5 591.60L253.0 596.56L252.5 599.71L252.0 604.37L251.5 604.34L251.0 605.36L250.5 605.20L250.0 604.69L249.5 605.91L249.0 606.07L248.5 605.76L248.0 604.18L247.5 603.73L247.0 603.22L246.5 602.54L246.0 601.38L245.5 600.66L245.0 599.31L244.5 598.21L244.0 596.25L243.5 594.94L243.0 598.64L242.5 601.45L242.0 602.47L241.5 603.29L241.0 603.32L240.5 604.72L240.0 604.53L239.5 603.68L239.0 603.22L238.5 604.31L238.0 602.96L237.5 602.28L237.0 602.42L236.5 602.33L236.0 602.29L235.5 601.32L235.0 601.00L234.5 600.46L234.0 600.84L233.5 599.38L233.0 598.38L232.5 596.91L232.0 594.84L231.5 591.87L231.0 588.55L230.5 587.42L230.0 591.41L229.5 596.78L229.0 598.89L228.5 600.99L228.0 602.04L227.5 601.18L227.0 601.57L226.5 600.85L226.0 601.83L225.5 600.90L225.0 600.72L224.5 601.74L224.0 601.16L223.5 600.44L223.0 600.36L222.5 600.03L222.0 598.22L221.5 597.77L221.0 597.54L220.5 596.04L220.0 593.07L219.5 589.80L219.0 587.55L218.5 588.04L218.0 590.88L217.5 594.68L217.0 596.34L216.5 597.62L216.0 597.74L215.5 598.26L215.0 599.07L214.5 600.23L214.0 599.16L213.5 597.96L213.0 596.95L212.5 597.60L212.0 596.90L211.5 597.07L211.0 596.03L210.5 596.23L210.0 596.31L209.5 595.38L209.0 595.72L208.5 595.62L208.0 593.85L207.5 593.34L207.0 591.57L206.5 589.19L206.0 587.47L205.5 587.67L205.0 588.91L204.5 590.16L204.0 591.46L203.5 592.85L203.0 592.84L202.5 593.75L202.0 595.65L201.5 598.13L201.0 598.12L200.5 596.25L200.0 593.96L199.5 593.37L199.0 592.58L198.5 592.30L198.0 591.96L197.5 591.23L197.0 591.28L196.5 591.12L196.0 590.87L195.5 590.43L195.0 589.87L194.5 590.20L194.0 589.44L193.5 589.48L193.0 589.09L192.5 588.61L192.0 588.11L191.5 587.54L191.0 587.46L190.5 586.99L190.0 586.69L189.5 586.27L189.0 586.15L188.5 585.85L188.0 585.40L187.5 585.14L187.0 584.77L186.5 584.39L186.0 584.00L185.5 583.75L185.0 583.75L184.5 583.75L184.0 583.75L183.5 583.75L183.0 583.75L182.5 583.75L182.0 583.75L181.5 583.75L181.0 583.75L180.5 583.86L180.0 584.02L179.5 584.17L179.0 584.33L178.5 584.49L178.0 584.87L177.5 585.82L177.0 587.04L176.5 587.86L176.0 588.74L175.5 589.73L175.0 598.36L174.5 602.43L174.0 604.80L173.5 605.31L173.0 605.50L172.5 604.96L172.0 605.39L171.5 605.13L171.0 604.36L170.5 604.20L170.0 604.21L169.5 602.81L169.0 602.85L168.5 601.17L168.0 601.03L167.5 599.32L167.0 598.73L166.5 595.99L166.0 593.45L165.5 591.41L165.0 589.40L164.5 587.69L164.0 587.50L163.5 591.95L163.0 596.55L162.5 599.98L162.0 604.08L161.5 605.16L161.0 604.65L160.5 605.42L160.0 605.11L159.5 604.45L159.0 606.09L158.5 605.72L158.0 605.73L157.5 604.52L157.0 603.78L156.5 603.43L156.0 601.50L155.5 602.14L155.0 599.14L154.5 597.55L154.0 595.90L153.5 594.98L153.0 597.59L152.5 601.32L152.0 603.53L151.5 602.57L151.0 603.56L150.5 604.20L150.0 603.43L149.5 603.57L149.0 602.76L148.5 602.97L148.0 604.03L147.5 603.37L147.0 603.58L146.5 602.88L146.0 602.35L145.5 601.52L145.0 602.03L144.5 600.17L144.0 599.54L143.5 598.73L143.0 598.73L142.5 597.16L142.0 595.31L141.5 591.99L141.0 588.50L140.5 587.62L140.0 590.99L139.5 596.56L139.0 598.16L138.5 601.59L138.0 602.42L137.5 601.75L137.0 601.32L136.5 602.09L136.0 601.53L135.5 601.61L135.0 601.85L134.5 601.12L134.0 601.29L133.5 601.15L133.0 600.13L132.5 600.51L132.0 599.06L131.5 597.85L131.0 597.36L130.5 596.45L130.0 593.18L129.5 589.64L129.0 587.75L128.5 587.94L128.0 591.36L127.5 594.47L127.0 597.11L126.5 597.18L126.0 598.02L125.5 599.67L125.0 599.69L124.5 599.93L124.0 598.49L123.5 598.02L123.0 597.42L122.5 597.07L122.0 596.79L121.5 596.60L121.0 595.55L120.5 595.52L120.0 596.23L119.5 595.76L119.0 596.05L118.5 595.83L118.0 593.70L117.5 592.58L117.0 591.46L116.5 589.69L116.0 587.75L115.5 587.43L115.0 589.10L114.5 590.12L114.0 591.35L113.5 593.25L113.0 593.08L112.5 594.01L112.0 595.54L111.5 596.98L111.0 598.35L110.5 595.25L110.0 593.49L109.5 592.71L109.0 592.58L108.5 592.32L108.0 591.95L107.5 591.43L107.0 591.36L106.5 591.19L106.0 590.32L105.5 590.17L105.0 589.86L104.5 589.67L104.0 589.71L103.5 589.76L103.0 589.14L102.5 588.96L102.0 588.12L101.5 587.59L101.0 587.43L100.5 586.94L100.0 586.66L99.5 586.45L99.0 585.97L98.5 585.90L98.0 585.39L97.5 585.04L97.0 584.77L96.5 584.39L96.0 584.00L95.5 583.75L95.0 583.75L94.5 583.75L94.0 583.75L93.5 583.75L93.0 583.75L92.5 583.75L92.0 583.75L91.5 583.75L91.0 583.75L90.5 583.75L90.0 583.75L89.5 583.75L89.0 583.75L88.5 583.75L88.0 583.75L87.5 583.75L87.0 583.75L86.5 583.75L86.0 583.75L85.5 583.75L85.0 583.75Z" fill="#1a1a1a"/>
<path d="M284.0 155.25L284.5 155.25L285.0 155.25L285.5 155.25L286.0 155.25L286.5 155.25L287.0 155.25L287.5 155.25L288.0 155.25L288.5 155.25L289.0 155.25L289.5 155.25L290.0 155.25L290.5 155.25L291.0 155.25L291.5 155.25L292.0 155.25L292.5 155.25L293.0 155.25L293.5 155.25L294.0 155.25L294.5 155.25L295.0 155.00L295.5 154.61L296.0 154.23L296.5 153.90L297.0 153.56L297.5 153.26L298.0 152.86L298.5 152.74L299.0 152.80L299.5 152.56L300.0 152.23L300.5 151.85L301.0 151.43L301.5 151.12L302.0 150.79L302.5 150.19L303.0 150.17L303.5 149.75L304.0 149.41L304.5 148.89L305.0 148.69L305.5 148.78L306.0 148.00L306.5 148.40L307.0 147.83L307.5 147.39L308.0 146.91L308.5 146.77L309.0 146.10L309.5 144.42L310.0 142.22L310.5 142.71L311.0 144.70L311.5 146.35L312.0 147.01L312.5 146.84L313.0 148.37L313.5 149.28L314.0 150.92L314.5 152.24L315.0 152.45L315.5 150.21L316.0 148.08L316.5 146.32L317.0 144.77L317.5 143.45L318.0 143.71L318.5 143.15L319.0 143.57L319.5 142.80L320.0 143.05L320.5 143.61L321.0 142.88L321.5 142.92L322.0 142.62L322.5 142.87L323.0 141.56L323.5 140.64L324.0 141.62L324.5 141.64L325.0 142.10L325.5 142.36L326.0 143.91L326.5 145.73L327.0 148.44L327.5 151.12L328.0 151.24L328.5 149.41L329.0 146.20L329.5 143.76L330.0 142.77L330.5 142.06L331.0 141.25L331.5 141.22L332.0 140.32L332.5 139.85L333.0 140.52L333.5 139.50L334.0 140.20L334.5 139.54L335.0 140.25L335.5 140.21L336.0 139.32L336.5 140.10L337.0 138.98L337.5 139.98L338.0 142.18L338.5 143.23L339.0 147.99L339.5 150.75L340.0 149.70L340.5 147.44L341.0 144.29L341.5 142.82L342.0 142.43L342.5 140.08L343.0 140.59L343.5 139.43L344.0 139.74L344.5 138.98L345.0 138.65L345.5 137.88L346.0 137.63L346.5 138.10L347.0 138.34L347.5 138.37L348.0 138.26L348.5 138.08L349.0 136.36L349.5 136.85L350.0 138.00L350.5 137.86L351.0 138.48L351.5 138.51L352.0 140.35L352.5 141.65L353.0 141.40L353.5 140.22L354.0 140.69L354.5 139.91L355.0 139.01L355.5 137.43L356.0 137.20L356.5 136.99L357.0 137.39L357.5 135.83L358.0 135.71L358.5 137.23L359.0 135.57L359.5 136.00L360.0 136.06L360.5 136.50L361.0 136.70L361.5 139.82L362.0 143.76L362.5 146.69L363.0 150.57L363.5 151.58L364.0 150.43L364.5 148.47L365.0 146.46L365.5 144.17L366.0 142.32L366.5 141.15L367.0 139.17L367.5 138.82L368.0 139.01L368.5 138.30L369.0 136.50L369.5 135.59L370.0 136.25L370.5 136.15L371.0 135.69L371.5 134.50L372.0 134.81L372.5 136.75L373.0 135.97L373.5 139.50L374.0 140.70L374.5 144.79L375.0 148.48L375.5 149.96L376.0 151.17L376.5 152.46L377.0 153.75L377.5 154.26L378.0 154.36L378.5 154.60L379.0 154.84L379.5 155.09L380.0 155.25L380.5 155.25L381.0 155.25L381.5 155.25L382.0 155.25L382.5 155.25L383.0 155.25L383.5 155.25L384.0 155.25L384.5 155.25L385.0 155.00L385.5 154.61L386.0 154.23L386.5 154.05L387.0 153.55L387.5 153.32L388.0 152.91L388.5 152.86L389.0 152.59L389.5 152.40L390.0 152.15L390.5 151.80L391.0 151.38L391.5 150.87L392.0 150.78L392.5 150.31L393.0 150.04L393.5 149.40L394.0 149.43L394.5 148.97L395.0 148.89L395.5 148.33L396.0 148.34L396.5 147.84L397.0 148.09L397.5 147.55L398.0 147.34L398.5 146.48L399.0 145.46L399.5 143.88L400.0 141.81L400.5 142.59L401.0 144.79L401.5 146.24L402.0 147.01L402.5 147.08L403.0 148.27L403.5 149.47L404.0 151.19L404.5 152.22L405.0 152.39L405.5 150.40L406.0 147.71L406.5 145.72L407.0 144.98L407.5 144.14L408.0 144.03L408.5 143.42L409.0 142.94L409.5 143.76L410.0 143.10L410.5 143.34L411.0 142.72L411.5 142.72L412.0 142.66L412.5 142.15L413.0 141.13L413.5 141.25L414.0 141.49L414.5 141.01L415.0 142.04L415.5 143.28L416.0 143.96L416.5 145.91L417.0 148.50L417.5 151.10L418.0 151.28L418.5 149.19L419.0 146.59L419.5 143.27L420.0 143.11L420.5 142.75L421.0 141.01L421.5 140.30L422.0 140.55L422.5 140.22L423.0 139.99L423.5 139.48L424.0 140.23L424.5 139.88L425.0 139.52L425.5 139.47L426.0 138.86L426.5 139.10L427.0 139.19L427.5 139.78L428.0 142.14L428.5 144.02L429.0 147.56L429.5 150.38L430.0 150.05L430.5 146.92L431.0 144.73L431.5 143.23L432.0 141.38L432.5 140.35L433.0 140.11L433.5 139.14L434.0 138.29L434.5 139.22L435.0 138.18L435.5 138.38L436.0 138.91L436.5 137.60L437.0 137.78L437.5 138.06L438.0 137.99L438.5 137.36L439.0 137.16L439.5 137.49L440.0 137.72L440.5 137.91L441.0 139.07L441.5 138.32L442.0 140.56L442.5 141.66L443.0 140.76L443.5 141.32L444.0 140.61L444.5 138.81L445.0 138.96L445.5 138.56L446.0 137.33L446.5 137.90L447.0 136.77L447.5 136.62L448.0 135.55L448.5 135.78L449.0 136.33L449.5 136.41L450.0 136.62L450.5 136.27L451.0 137.08L451.5 140.97L452.0 143.34L452.5 147.08L453.0 150.49L453.5 151.32L454.0 150.06L454.5 148.30L455.0 146.16L455.5 143.88L456.0 141.87L456.5 141.09L457.0 139.09L457.5 138.79L458.0 137.51L458.5 137.42L459.0 137.78L459.5 135.54L460.0 135.30L460.5 135.28L461.0 134.34L461.5 134.84L462.0 135.69L462.5 135.86L463.0 136.28L463.5 139.09L464.0 140.80L464.5 145.67L465.0 147.98L465.5 149.44L466.0 150.80L466.5 152.42L467.0 153.63L467.5 154.21L468.0 154.36L468.5 154.60L469.0 154.84L469.5 155.09L470.0 155.25L470.5 155.25L471.0 155.25L471.5 155.25L472.0 155.25L472.5 155.25L473.0 155.25L473.5 155.25L474.0 155.25L474.5 155.25L475.0 155.00L475.5 154.61L476.0 154.23L476.5 154.02L477.0 153.70L477.5 153.17L478.0 153.14L478.5 152.75L479.0 152.50L479.5 152.38L480.0 152.34L480.5 151.90L481.0 151.57L481.5 151.24L482.0 150.61L482.5 150.46L483.0 149.82L483.5 149.75L484.0 149.41L484.5 148.95L485.0 148.88L485.5 148.48L486.0 148.41L486.5 147.84L487.0 147.84L487.5 147.69L488.0 147.38L488.5 146.54L489.0 145.51L489.5 144.54L490.0 142.08L490.5 141.68L491.0 143.95L491.5 145.82L492.0 146.79L492.5 146.80L493.0 147.89L493.5 149.48L494.0 151.02L494.5 152.33L495.0 152.20L495.5 150.33L496.0 147.54L496.5 145.67L497.0 144.32L497.5 143.34L498.0 143.73L498.5 143.83L499.0 143.25L499.5 143.29L500.0 143.68L500.5 143.51L501.0 142.98L501.5 143.03L502.0 142.35L502.5 141.73L503.0 141.98L503.5 141.23L504.0 140.52L504.5 142.25L505.0 142.12L505.5 142.61L506.0 144.26L506.5 145.98L507.0 148.39L507.5 151.03L508.0 151.65L508.5 149.58L509.0 146.68L509.5 144.24L510.0 142.68L510.5 141.82L511.0 141.84L511.5 140.85L512.0 139.52L512.5 139.79L513.0 139.82L513.5 140.35L514.0 139.29L514.5 139.68L515.0 139.20L515.5 139.97L516.0 140.33L516.5 139.30L517.0 139.12L517.5 139.97L518.0 141.58L518.5 143.35L519.0 148.06L519.5 150.48L520.0 150.10L520.5 146.87L521.0 144.50L521.5 142.36L522.0 142.23L522.5 141.50L523.0 140.74L523.5 139.03L524.0 138.94L524.5 137.83L525.0 137.70L525.5 137.81L526.0 137.95L526.5 137.16L527.0 138.03L527.5 138.38L528.0 137.07L528.5 137.83L529.0 137.25L529.5 137.52L530.0 137.14L530.5 138.25L531.0 138.98L531.5 139.18L532.0 140.85L532.5 141.73L533.0 140.89L533.5 140.96L534.0 140.12L534.5 139.16L535.0 139.29L535.5 138.98L536.0 137.28L536.5 136.97L537.0 137.48L537.5 136.85L538.0 136.55L538.5 136.32L539.0 136.73L539.5 135.60L540.0 136.10L540.5 137.08L541.0 137.51L541.5 141.00L542.0 143.36L542.5 146.90L543.0 150.87L543.5 151.37L544.0 150.14L544.5 148.34L545.0 146.07L545.5 143.92L546.0 142.41L546.5 141.58L547.0 140.32L547.5 138.58L548.0 137.54L548.5 137.57L549.0 137.02L549.5 135.80L550.0 135.26L550.5 134.96L551.0 135.57L551.5 134.58L552.0 136.26L552.5 135.65L553.0 137.40L553.5 139.63L554.0 141.20L554.5 145.07L555.0 148.19L555.5 149.47L556.0 150.95L556.5 152.21L557.0 153.80L557.5 154.30L558.0 154.36L558.5 154.60L559.0 154.84L559.5 155.09L560.0 155.25L560.5 155.25L561.0 155.25L561.5 155.25L562.0 155.25L562.5 155.25L563.0 155.25L563.5 155.25L564.0 155.25L564.5 155.25L565.0 155.25L565.5 155.25L566.0 155.25L566.5 155.25L567.0 155.25L567.5 155.25L568.0 155.25L568.5 155.25L569.0 155.25L569.0 157.15L568.5 157.15L568.0 157.15L567.5 157.15L567.0 157.15L566.5 157.15L566.0 157.15L565.5 157.15L565.0 157.15L564.5 157.15L564.0 157.15L563.5 157.15L563.0 157.15L562.5 157.15L562.0 157.15L561.5 157.15L561.0 157.15L560.5 157.15L560.0 157.15L559.5 157.26L559.0 157.42L558.5 157.57L558.0 157.73L557.5 157.89L557.0 158.10L556.5 159.32L556.0 160.10L555.5 161.48L555.0 162.54L554.5 163.04L554.0 172.87L553.5 175.19L553.0 178.30L552.5 177.13L552.0 178.84L551.5 179.48L551.0 178.61L550.5 177.84L550.0 177.72L549.5 177.30L549.0 178.45L548.5 177.23L548.0 176.45L547.5 174.42L547.0 175.14L546.5 172.82L546.0 171.40L545.5 170.16L545.0 167.34L544.5 164.33L544.0 163.11L543.5 161.09L543.0 160.75L542.5 165.28L542.0 169.38L541.5 173.99L541.0 177.74L540.5 177.32L540.0 178.32L539.5 178.08L539.0 177.65L538.5 179.06L538.0 178.48L537.5 179.32L537.0 177.21L536.5 177.15L536.0 177.19L535.5 177.05L535.0 175.65L534.5 174.76L534.0 173.17L533.5 170.66L533.0 170.10L532.5 168.02L532.0 171.25L531.5 174.60L531.0 176.69L530.5 176.05L530.0 177.96L529.5 177.64L529.0 176.66L528.5 176.56L528.0 177.65L527.5 176.15L527.0 176.22L526.5 176.50L526.0 176.62L525.5 175.42L525.0 176.14L524.5 175.45L524.0 175.22L523.5 175.17L523.0 174.51L522.5 172.38L522.0 171.68L521.5 170.83L521.0 169.00L520.5 165.17L520.0 162.05L519.5 161.06L519.0 164.26L518.5 169.73L518.0 171.54L517.5 174.39L517.0 175.21L516.5 175.66L516.0 174.32L515.5 174.06L515.0 174.36L514.5 175.46L514.0 174.91L513.5 174.77L513.0 173.83L512.5 174.20L512.0 173.52L511.5 172.94L511.0 172.58L510.5 171.97L510.0 169.92L509.5 169.09L509.0 166.62L508.5 163.36L508.0 160.77L507.5 161.50L507.0 164.30L506.5 167.29L506.0 169.65L505.5 171.20L505.0 172.13L504.5 172.58L504.0 173.36L503.5 172.85L503.0 172.34L502.5 171.35L502.0 171.01L501.5 171.18L501.0 170.27L500.5 170.22L500.0 169.41L499.5 169.85L499.0 169.09L498.5 168.60L498.0 168.72L497.5 168.35L497.0 167.67L496.5 166.06L496.0 164.35L495.5 163.05L495.0 161.14L494.5 161.09L494.0 162.13L493.5 163.53L493.0 165.11L492.5 165.79L492.0 167.03L491.5 166.97L491.0 169.57L490.5 170.82L490.0 171.83L489.5 169.73L489.0 167.44L488.5 166.63L488.0 165.84L487.5 165.67L487.0 164.86L486.5 164.51L486.0 164.85L485.5 164.09L485.0 164.39L484.5 164.04L484.0 163.63L483.5 163.25L483.0 163.31L482.5 162.88L482.0 162.76L481.5 162.20L481.0 161.61L480.5 161.05L480.0 160.82L479.5 160.26L479.0 160.09L478.5 159.64L478.0 159.60L477.5 159.15L477.0 158.93L476.5 158.36L476.0 158.17L475.5 157.79L475.0 157.40L474.5 157.15L474.0 157.15L473.5 157.15L473.0 157.15L472.5 157.15L472.0 157.15L471.5 157.15L471.0 157.15L470.5 157.15L470.0 157.15L469.5 157.26L469.0 157.42L468.5 157.57L468.0 157.73L467.5 157.89L467.0 158.10L466.5 159.11L466.0 160.43L465.5 161.45L465.0 162.60L464.5 163.30L464.0 172.00L463.5 175.53L463.0 176.77L462.5 178.29L462.0 177.27L461.5 177.94L461.0 178.44L460.5 179.70L460.0 178.31L459.5 178.31L459.0 178.11L458.5 177.70L458.0 176.19L457.5 174.88L457.0 174.39L456.5 173.72L456.0 172.24L455.5 170.23L455.0 167.16L454.5 164.95L454.0 162.90L453.5 160.91L453.0 161.17L452.5 165.00L452.0 169.96L451.5 173.11L451.0 177.77L450.5 177.74L450.0 178.76L449.5 178.60L449.0 178.09L448.5 179.31L448.0 179.47L447.5 179.16L447.0 177.58L446.5 177.13L446.0 176.62L445.5 175.94L445.0 174.78L444.5 174.06L444.0 172.71L443.5 171.61L443.0 169.65L442.5 168.34L442.0 172.04L441.5 174.85L441.0 175.87L440.5 176.69L440.0 176.72L439.5 178.12L439.0 177.93L438.5 177.08L438.0 176.62L437.5 177.71L437.0 176.36L436.5 175.68L436.0 175.82L435.5 175.73L435.0 175.69L434.5 174.72L434.0 174.40L433.5 173.86L433.0 174.24L432.5 172.78L432.0 171.78L431.5 170.31L431.0 168.24L430.5 165.27L430.0 161.95L429.5 160.82L429.0 164.81L428.5 170.18L428.0 172.29L427.5 174.39L427.0 175.44L426.5 174.58L426.0 174.97L425.5 174.25L425.0 175.23L424.5 174.30L424.0 174.12L423.5 175.14L423.0 174.56L422.5 173.84L422.0 173.76L421.5 173.43L421.0 171.62L420.5 171.17L420.0 170.94L419.5 169.44L419.0 166.47L418.5 163.20L418.0 160.95L417.5 161.44L417.0 164.28L416.5 168.08L416.0 169.74L415.5 171.02L415.0 171.14L414.5 171.66L414.0 172.47L413.5 173.63L413.0 172.56L412.5 171.36L412.0 170.35L411.5 171.00L411.0 170.30L410.5 170.47L410.0 169.43L409.5 169.63L409.0 169.71L408.5 168.78L408.0 169.12L407.5 169.02L407.0 167.25L406.5 166.74L406.0 164.97L405.5 162.59L405.0 160.87L404.5 161.07L404.0 162.31L403.5 163.56L403.0 164.86L402.5 166.25L402.0 166.24L401.5 167.15L401.0 169.05L400.5 171.53L400.0 171.52L399.5 169.65L399.0 167.36L398.5 166.77L398.0 165.98L397.5 165.70L397.0 165.36L396.5 164.63L396.0 164.68L395.5 164.52L395.0 164.27L394.5 163.83L394.0 163.27L393.5 163.60L393.0 162.84L392.5 162.88L392.0 162.49L391.5 162.01L391.0 161.51L390.5 160.94L390.0 160.86L389.5 160.39L389.0 160.09L388.5 159.67L388.0 159.55L387.5 159.25L387.0 158.80L386.5 158.54L386.0 158.17L385.5 157.79L385.0 157.40L384.5 157.15L384.0 157.15L383.5 157.15L383.0 157.15L382.5 157.15L382.0 157.15L381.5 157.15L381.0 157.15L380.5 157.15L380.0 157.15L379.5 157.26L379.0 157.42L378.5 157.57L378.0 157.73L377.5 157.89L377.0 158.27L376.5 159.22L376.0 160.44L375.5 161.26L375.0 162.14L374.5 163.13L374.0 171.76L373.5 175.83L373.0 178.20L372.5 178.71L372.0 178.90L371.5 178.36L371.0 178.79L370.5 178.53L370.0 177.76L369.5 177.60L369.0 177.61L368.5 176.21L368.0 176.25L367.5 174.57L367.0 174.43L366.5 172.72L366.0 172.13L365.5 169.39L365.0 166.85L364.5 164.81L364.0 162.80L363.5 161.09L363.0 160.90L362.5 165.35L362.0 169.95L361.5 173.38L361.0 177.48L360.5 178.56L360.0 178.05L359.5 178.82L359.0 178.51L358.5 177.85L358.0 179.49L357.5 179.12L357.0 179.13L356.5 177.92L356.0 177.18L355.5 176.83L355.0 174.90L354.5 175.54L354.0 172.54L353.5 170.95L353.0 169.30L352.5 168.38L352.0 170.99L351.5 174.72L351.0 176.93L350.5 175.97L350.0 176.96L349.5 177.60L349.0 176.83L348.5 176.97L348.0 176.16L347.5 176.37L347.0 177.43L346.5 176.77L346.0 176.98L345.5 176.28L345.0 175.75L344.5 174.92L344.0 175.43L343.5 173.57L343.0 172.94L342.5 172.13L342.0 172.13L341.5 170.56L341.0 168.71L340.5 165.39L340.0 161.90L339.5 161.02L339.0 164.39L338.5 169.96L338.0 171.56L337.5 174.99L337.0 175.82L336.5 175.15L336.0 174.72L335.5 175.49L335.0 174.93L334.5 175.01L334.0 175.25L333.5 174.52L333.0 174.69L332.5 174.55L332.0 173.53L331.5 173.91L331.0 172.46L330.5 171.25L330.0 170.76L329.5 169.85L329.0 166.58L328.5 163.04L328.0 161.15L327.5 161.34L327.0 164.76L326.5 167.87L326.0 170.51L325.5 170.58L325.0 171.42L324.5 173.07L324.0 173.09L323.5 173.33L323.0 171.89L322.5 171.42L322.0 170.82L321.5 170.47L321.0 170.19L320.5 170.00L320.0 168.95L319.5 168.92L319.0 169.63L318.5 169.16L318.0 169.45L317.5 169.23L317.0 167.10L316.5 165.98L316.0 164.86L315.5 163.09L315.0 161.15L314.5 160.83L314.0 162.50L313.5 163.52L313.0 164.75L312.5 166.65L312.0 166.48L311.5 167.41L311.0 168.94L310.5 170.38L310.0 171.75L309.5 168.65L309.0 166.89L308.5 166.11L308.0 165.98L307.5 165.72L307.0 165.35L306.5 164.83L306.0 164.76L305.5 164.59L305.0 163.72L304.5 163.57L304.0 163.26L303.5 163.07L303.0 163.11L302.5 163.16L302.0 162.54L301.5 162.36L301.0 161.52L300.5 160.99L300.0 160.83L299.5 160.34L299.0 160.06L298.5 159.85L298.0 159.37L297.5 159.30L297.0 158.79L296.5 158.44L296.0 158.17L295.5 157.79L295.0 157.40L294.5 157.15L294.0 157.15L293.5 157.15L293.0 157.15L292.5 157.15L292.0 157.15L291.5 157.15L291.0 157.15L290.5 157.15L290.0 157.15L289.5 157.15L289.0 157.15L288.5 157.15L288.0 157.15L287.5 157.15L287.0 157.15L286.5 157.15L286.0 157.15L285.5 157.15L285.0 157.15L284.5 157.15L284.0 157.15Z" fill="#1a1a1a"/>
<text x="3.3" y="65.1" font-size="50">a</text>
<text x="77.8" y="394" font-size="39.8" letter-spacing="-0.75" style="fill:#7c97a7">contra</text>
<text x="283.2" y="391.6" font-size="39.4">ipsi</text>
<text x="624.3" y="62.2" font-size="49.5">b</text>
<g fill="none" stroke="#1a1a1a" stroke-width="4" stroke-dasharray="4 6.61">
<path d="M990.1 638.5 V87.5"/>
<path d="M714.7 363.2 H1265.5"/>
</g>
<clipPath id="ct"><rect x="715.0" y="0" width="550.5" height="86.8"/></clipPath>
<clipPath id="cr"><rect x="1266.2" y="87.5" width="100" height="551.0"/></clipPath>
<path d="M715.0 87.50L717.0 87.50L719.0 87.50L721.0 87.50L723.0 87.50L725.0 87.50L727.0 87.50L729.0 87.50L731.0 87.50L733.0 87.50L735.0 87.50L737.0 87.50L739.0 87.50L741.0 87.50L743.0 87.50L745.0 87.50L747.0 87.50L749.0 87.50L751.0 87.50L753.0 87.50L755.0 87.50L757.0 87.50L759.0 87.50L761.0 87.50L763.0 87.50L765.0 87.50L767.0 87.50L769.0 87.50L771.0 87.50L773.0 87.50L775.0 87.50L777.0 87.50L779.0 87.50L781.0 87.50L783.0 87.50L785.0 87.50L787.0 87.50L789.0 87.50L791.0 87.50L793.0 87.50L795.0 87.50L797.0 87.50L799.0 87.50L801.0 87.50L803.0 87.50L805.0 87.50L807.0 87.50L809.0 87.50L811.0 87.50L813.0 87.50L815.0 87.50L817.0 87.50L819.0 87.50L821.0 87.50L823.0 87.50L825.0 87.50L827.0 87.50L829.0 87.50L831.0 87.50L833.0 87.50L835.0 87.50L837.0 87.50L839.0 87.50L841.0 87.50L843.0 87.50L845.0 87.50L847.0 87.50L849.0 87.50L851.0 87.50L853.0 87.50L855.0 87.50L857.0 87.50L859.0 87.50L861.0 87.50L863.0 87.50L865.0 87.50L867.0 87.50L869.0 87.50L871.0 87.50L873.0 87.50L875.0 87.50L877.0 87.50L879.0 87.50L881.0 87.50L883.0 87.50L885.0 87.50L887.0 87.50L889.0 87.50L891.0 87.49L893.0 87.49L895.0 87.49L897.0 87.49L899.0 87.49L901.0 87.49L903.0 87.48L905.0 87.48L907.0 87.48L909.0 87.47L911.0 87.47L913.0 87.46L915.0 87.46L917.0 87.45L919.0 87.44L921.0 87.43L923.0 87.42L925.0 87.41L927.0 87.40L929.0 87.38L931.0 87.36L933.0 87.34L935.0 87.32L937.0 87.29L939.0 87.26L941.0 87.23L943.0 87.19L945.0 87.15L947.0 87.10L949.0 87.05L951.0 86.98L953.0 86.92L955.0 86.84L957.0 86.75L959.0 86.66L961.0 86.55L963.0 86.44L965.0 86.31L967.0 86.16L969.0 86.00L971.0 85.83L973.0 85.64L975.0 85.43L977.0 85.20L979.0 84.94L981.0 84.67L983.0 84.37L985.0 84.04L987.0 83.69L989.0 83.30L991.0 82.89L993.0 82.44L995.0 81.95L997.0 81.43L999.0 80.88L1001.0 80.28L1003.0 79.64L1005.0 78.96L1007.0 78.23L1009.0 77.46L1011.0 76.64L1013.0 75.77L1015.0 74.86L1017.0 73.89L1019.0 72.88L1021.0 71.81L1023.0 70.69L1025.0 69.52L1027.0 68.30L1029.0 67.04L1031.0 65.72L1033.0 64.35L1035.0 62.94L1037.0 61.48L1039.0 59.99L1041.0 58.45L1043.0 56.87L1045.0 55.26L1047.0 53.62L1049.0 51.96L1051.0 50.27L1053.0 48.56L1055.0 46.85L1057.0 45.12L1059.0 43.39L1061.0 41.66L1063.0 39.94L1065.0 38.24L1067.0 36.56L1069.0 34.90L1071.0 33.28L1073.0 31.69L1075.0 30.15L1077.0 28.67L1079.0 27.24L1081.0 25.87L1083.0 24.58L1085.0 23.36L1087.0 22.22L1089.0 21.17L1091.0 20.20L1093.0 19.34L1095.0 18.57L1097.0 17.90L1099.0 17.35L1101.0 16.90L1103.0 16.56L1105.0 16.33L1107.0 16.21L1109.0 16.21L1111.0 16.33L1113.0 16.56L1115.0 16.90L1117.0 17.35L1119.0 17.90L1121.0 18.57L1123.0 19.34L1125.0 20.20L1127.0 21.17L1129.0 22.22L1131.0 23.36L1133.0 24.58L1135.0 25.87L1137.0 27.24L1139.0 28.67L1141.0 30.15L1143.0 31.69L1145.0 33.28L1147.0 34.90L1149.0 36.56L1151.0 38.24L1153.0 39.94L1155.0 41.66L1157.0 43.39L1159.0 45.12L1161.0 46.85L1163.0 48.56L1165.0 50.27L1167.0 51.96L1169.0 53.62L1171.0 55.26L1173.0 56.87L1175.0 58.45L1177.0 59.99L1179.0 61.48L1181.0 62.94L1183.0 64.35L1185.0 65.72L1187.0 67.04L1189.0 68.30L1191.0 69.52L1193.0 70.69L1195.0 71.81L1197.0 72.88L1199.0 73.89L1201.0 74.86L1203.0 75.77L1205.0 76.64L1207.0 77.46L1209.0 78.23L1211.0 78.96L1213.0 79.64L1215.0 80.28L1217.0 80.88L1219.0 81.43L1221.0 81.95L1223.0 82.44L1225.0 82.89L1227.0 83.30L1229.0 83.69L1231.0 84.04L1233.0 84.37L1235.0 84.67L1237.0 84.94L1239.0 85.20L1241.0 85.43L1243.0 85.64L1245.0 85.83L1247.0 86.00L1249.0 86.16L1251.0 86.31L1253.0 86.44L1255.0 86.55L1257.0 86.66L1259.0 86.75L1261.0 86.84L1263.0 86.92L1265.0 86.98" fill="none" stroke="#eb2f27" stroke-width="4.3" stroke-linejoin="round" clip-path="url(#ct)"/>
<path d="M1265.50 87.5L1265.50 89.5L1265.50 91.5L1265.50 93.5L1265.50 95.5L1265.50 97.5L1265.50 99.5L1265.50 101.5L1265.50 103.5L1265.50 105.5L1265.50 107.5L1265.50 109.5L1265.50 111.5L1265.50 113.5L1265.50 115.5L1265.50 117.5L1265.50 119.5L1265.50 121.5L1265.50 123.5L1265.51 125.5L1265.51 127.5L1265.51 129.5L1265.51 131.5L1265.51 133.5L1265.51 135.5L1265.52 137.5L1265.52 139.5L1265.52 141.5L1265.52 143.5L1265.53 145.5L1265.53 147.5L1265.54 149.5L1265.54 151.5L1265.55 153.5L1265.56 155.5L1265.57 157.5L1265.58 159.5L1265.59 161.5L1265.60 163.5L1265.62 165.5L1265.63 167.5L1265.65 169.5L1265.67 171.5L1265.70 173.5L1265.72 175.5L1265.75 177.5L1265.79 179.5L1265.83 181.5L1265.87 183.5L1265.92 185.5L1265.97 187.5L1266.03 189.5L1266.09 191.5L1266.17 193.5L1266.25 195.5L1266.34 197.5L1266.44 199.5L1266.55 201.5L1266.67 203.5L1266.80 205.5L1266.94 207.5L1267.10 209.5L1267.28 211.5L1267.47 213.5L1267.68 215.5L1267.90 217.5L1268.15 219.5L1268.42 221.5L1268.71 223.5L1269.02 225.5L1269.36 227.5L1269.72 229.5L1270.12 231.5L1270.54 233.5L1270.99 235.5L1271.48 237.5L1272.00 239.5L1272.55 241.5L1273.15 243.5L1273.77 245.5L1274.44 247.5L1275.15 249.5L1275.90 251.5L1276.69 253.5L1277.52 255.5L1278.40 257.5L1279.32 259.5L1280.29 261.5L1281.30 263.5L1282.36 265.5L1283.47 267.5L1284.61 269.5L1285.81 271.5L1287.04 273.5L1288.32 275.5L1289.64 277.5L1291.00 279.5L1292.40 281.5L1293.84 283.5L1295.31 285.5L1296.81 287.5L1298.34 289.5L1299.89 291.5L1301.47 293.5L1303.07 295.5L1304.68 297.5L1306.30 299.5L1307.93 301.5L1309.56 303.5L1311.19 305.5L1312.81 307.5L1314.42 309.5L1316.02 311.5L1317.59 313.5L1319.13 315.5L1320.64 317.5L1322.11 319.5L1323.54 321.5L1324.92 323.5L1326.25 325.5L1327.51 327.5L1328.72 329.5L1329.85 331.5L1330.91 333.5L1331.90 335.5L1332.80 337.5L1333.62 339.5L1334.36 341.5L1335.00 343.5L1335.54 345.5L1335.99 347.5L1336.34 349.5L1336.60 351.5L1336.75 353.5L1336.80 355.5L1336.75 357.5L1336.60 359.5L1336.34 361.5L1335.99 363.5L1335.54 365.5L1335.00 367.5L1334.36 369.5L1333.62 371.5L1332.80 373.5L1331.90 375.5L1330.91 377.5L1329.85 379.5L1328.72 381.5L1327.51 383.5L1326.25 385.5L1324.92 387.5L1323.54 389.5L1322.11 391.5L1320.64 393.5L1319.13 395.5L1317.59 397.5L1316.02 399.5L1314.42 401.5L1312.81 403.5L1311.19 405.5L1309.56 407.5L1307.93 409.5L1306.30 411.5L1304.68 413.5L1303.07 415.5L1301.47 417.5L1299.89 419.5L1298.34 421.5L1296.81 423.5L1295.31 425.5L1293.84 427.5L1292.40 429.5L1291.00 431.5L1289.64 433.5L1288.32 435.5L1287.04 437.5L1285.81 439.5L1284.61 441.5L1283.47 443.5L1282.36 445.5L1281.30 447.5L1280.29 449.5L1279.32 451.5L1278.40 453.5L1277.52 455.5L1276.69 457.5L1275.90 459.5L1275.15 461.5L1274.44 463.5L1273.77 465.5L1273.15 467.5L1272.55 469.5L1272.00 471.5L1271.48 473.5L1270.99 475.5L1270.54 477.5L1270.12 479.5L1269.72 481.5L1269.36 483.5L1269.02 485.5L1268.71 487.5L1268.42 489.5L1268.15 491.5L1267.90 493.5L1267.68 495.5L1267.47 497.5L1267.28 499.5L1267.10 501.5L1266.94 503.5L1266.80 505.5L1266.67 507.5L1266.55 509.5L1266.44 511.5L1266.34 513.5L1266.25 515.5L1266.17 517.5L1266.09 519.5L1266.03 521.5L1265.97 523.5L1265.92 525.5L1265.87 527.5L1265.83 529.5L1265.79 531.5L1265.75 533.5L1265.72 535.5L1265.70 537.5L1265.67 539.5L1265.65 541.5L1265.63 543.5L1265.62 545.5L1265.60 547.5L1265.59 549.5L1265.58 551.5L1265.57 553.5L1265.56 555.5L1265.55 557.5L1265.54 559.5L1265.54 561.5L1265.53 563.5L1265.53 565.5L1265.52 567.5L1265.52 569.5L1265.52 571.5L1265.52 573.5L1265.51 575.5L1265.51 577.5L1265.51 579.5L1265.51 581.5L1265.51 583.5L1265.51 585.5L1265.50 587.5L1265.50 589.5L1265.50 591.5L1265.50 593.5L1265.50 595.5L1265.50 597.5L1265.50 599.5L1265.50 601.5L1265.50 603.5L1265.50 605.5L1265.50 607.5L1265.50 609.5L1265.50 611.5L1265.50 613.5L1265.50 615.5L1265.50 617.5L1265.50 619.5L1265.50 621.5L1265.50 623.5L1265.50 625.5L1265.50 627.5L1265.50 629.5L1265.50 631.5L1265.50 633.5L1265.50 635.5L1265.50 637.5" fill="none" stroke="#eb2f27" stroke-width="4.3" stroke-linejoin="round" clip-path="url(#cr)"/>
<g stroke="#b3b3b3" stroke-width="2.7">
<path d="M1018.9 75 V87.5"/>
<path d="M1024.7 75 V87.5"/>
<path d="M1036.1 75 V87.5"/>
<path d="M1041.9 75 V87.5"/>
<path d="M1047.6 75 V87.5"/>
<path d="M1053.3 75 V87.5"/>
<path d="M1059.1 75 V87.5"/>
<path d="M1070.5 75 V87.5"/>
<path d="M1076.3 75 V87.5"/>
<path d="M1082.0 75 V87.5"/>
<path d="M1087.7 75 V87.5"/>
<path d="M1093.5 75 V87.5"/>
<path d="M1099.2 75 V87.5"/>
<path d="M1104.9 75 V87.5"/>
<path d="M1110.7 75 V87.5"/>
<path d="M1116.4 75 V87.5"/>
<path d="M1122.1 75 V87.5"/>
<path d="M1133.6 75 V87.5"/>
<path d="M1139.3 75 V87.5"/>
<path d="M1145.1 75 V87.5"/>
<path d="M1156.5 75 V87.5"/>
<path d="M1168.0 75 V87.5"/>
<path d="M1173.8 75 V87.5"/>
<path d="M1196.7 75 V87.5"/>
<path d="M1213.9 75 V87.5"/>
<path d="M1231.1 75 V87.5"/>
<path d="M1254.0 75 V87.5"/>
</g>
<g stroke="#b3b3b3" stroke-width="2.7">
<path d="M1265.5 223.4 H1278.6"/>
<path d="M1265.5 251.2 H1278.6"/>
<path d="M1265.5 259.4 H1278.6"/>
<path d="M1265.5 265.0 H1278.6"/>
<path d="M1265.5 282.4 H1278.6"/>
<path d="M1265.5 284.0 H1278.6"/>
<path d="M1265.5 288.2 H1278.6"/>
<path d="M1265.5 297.0 H1278.6"/>
<path d="M1265.5 304.6 H1278.6"/>
<path d="M1265.5 311.0 H1278.6"/>
<path d="M1265.5 320.4 H1278.6"/>
<path d="M1265.5 321.3 H1278.6"/>
<path d="M1265.5 324.0 H1278.6"/>
<path d="M1265.5 327.0 H1278.6"/>
<path d="M1265.5 327.3 H1278.6"/>
<path d="M1265.5 330.3 H1278.6"/>
<path d="M1265.5 336.0 H1278.6"/>
<path d="M1265.5 336.2 H1278.6"/>
<path d="M1265.5 337.2 H1278.6"/>
<path d="M1265.5 338.3 H1278.6"/>
<path d="M1265.5 341.4 H1278.6"/>
<path d="M1265.5 345.5 H1278.6"/>
<path d="M1265.5 352.4 H1278.6"/>
<path d="M1265.5 353.6 H1278.6"/>
<path d="M1265.5 355.0 H1278.6"/>
<path d="M1265.5 356.0 H1278.6"/>
<path d="M1265.5 357.6 H1278.6"/>
<path d="M1265.5 358.0 H1278.6"/>
<path d="M1265.5 358.6 H1278.6"/>
<path d="M1265.5 362.0 H1278.6"/>
<path d="M1265.5 362.6 H1278.6"/>
<path d="M1265.5 364.6 H1278.6"/>
<path d="M1265.5 366.0 H1278.6"/>
<path d="M1265.5 367.0 H1278.6"/>
<path d="M1265.5 373.0 H1278.6"/>
<path d="M1265.5 374.0 H1278.6"/>
<path d="M1265.5 374.6 H1278.6"/>
<path d="M1265.5 378.6 H1278.6"/>
<path d="M1265.5 379.4 H1278.6"/>
<path d="M1265.5 390.4 H1278.6"/>
<path d="M1265.5 401.0 H1278.6"/>
<path d="M1265.5 409.0 H1278.6"/>
<path d="M1265.5 412.4 H1278.6"/>
<path d="M1265.5 413.4 H1278.6"/>
<path d="M1265.5 425.2 H1278.6"/>
<path d="M1265.5 426.2 H1278.6"/>
<path d="M1265.5 429.8 H1278.6"/>
<path d="M1265.5 430.0 H1278.6"/>
<path d="M1265.5 484.0 H1278.6"/>
<path d="M1265.5 521.4 H1278.6"/>
</g>
<g id="frames" fill="none" stroke="#1a1a1a" stroke-width="2.2" stroke-linecap="square">
<path d="M715.0 638.5 V9.3 H1265.5 V638.5"/>
<path d="M715.0 638.5 H1265.5"/>
<path d="M715.0 87.5 H1344.0 V638.5"/>
<path d="M1265.5 638.5 H1344.0"/>
<path d="M715.0 638.5 v9.5"/>
<path d="M852.6 638.5 v9.5"/>
<path d="M990.2 638.5 v9.5"/>
<path d="M1127.9 638.5 v9.5"/>
<path d="M1265.5 638.5 v9.5"/>
<path d="M715.0 87.5 h-9.5"/>
<path d="M715.0 179.3 h-9.5"/>
<path d="M715.0 271.2 h-9.5"/>
<path d="M715.0 363.0 h-9.5"/>
<path d="M715.0 454.8 h-9.5"/>
<path d="M715.0 546.7 h-9.5"/>
<path d="M715.0 638.5 h-9.5"/>
<path d="M1265.5 9.3 h9"/>
<path d="M1344.0 87.5 v-9"/>
</g>
<g fill="#bbbec0" stroke="#1a1a1a" stroke-width="3.0">
<circle cx="1213.9" cy="223.4" r="7.9"/>
<circle cx="1110.7" cy="251.2" r="7.9"/>
<circle cx="1173.8" cy="265.0" r="7.9"/>
<circle cx="1173.8" cy="259.4" r="7.9"/>
<circle cx="1099.2" cy="282.4" r="7.9"/>
<circle cx="1110.7" cy="284.0" r="7.9"/>
<circle cx="1173.8" cy="288.2" r="7.9"/>
<circle cx="1093.5" cy="297.0" r="7.9"/>
<circle cx="1145.1" cy="304.6" r="7.9"/>
<circle cx="1082.0" cy="311.0" r="7.9"/>
<circle cx="1059.1" cy="321.3" r="7.9"/>
<circle cx="1196.7" cy="324.0" r="7.9"/>
<circle cx="1254.0" cy="320.4" r="7.9"/>
<circle cx="1024.7" cy="336.2" r="7.9"/>
<circle cx="1047.6" cy="330.3" r="7.9"/>
<circle cx="1036.1" cy="337.2" r="7.9"/>
<circle cx="1093.5" cy="327.0" r="7.9"/>
<circle cx="1099.2" cy="327.3" r="7.9"/>
<circle cx="1082.0" cy="336.0" r="7.9"/>
<circle cx="1076.3" cy="338.3" r="7.9"/>
<circle cx="1110.7" cy="341.4" r="7.9"/>
<circle cx="1168.0" cy="345.5" r="7.9"/>
<circle cx="1018.9" cy="362.0" r="7.9"/>
<circle cx="1041.9" cy="356.0" r="7.9"/>
<circle cx="1053.3" cy="357.6" r="7.9"/>
<circle cx="1041.9" cy="374.6" r="7.9"/>
<circle cx="1082.0" cy="355.0" r="7.9"/>
<circle cx="1099.2" cy="352.4" r="7.9"/>
<circle cx="1093.5" cy="366.0" r="7.9"/>
<circle cx="1093.5" cy="353.6" r="7.9"/>
<circle cx="1122.1" cy="364.6" r="7.9"/>
<circle cx="1110.7" cy="362.6" r="7.9"/>
<circle cx="1133.6" cy="367.0" r="7.9"/>
<circle cx="1156.5" cy="362.6" r="7.9"/>
<circle cx="1156.5" cy="358.6" r="7.9"/>
<circle cx="1145.1" cy="374.0" r="7.9"/>
<circle cx="1139.3" cy="373.0" r="7.9"/>
<circle cx="1133.6" cy="378.6" r="7.9"/>
<circle cx="1139.3" cy="390.4" r="7.9"/>
<circle cx="1173.8" cy="379.4" r="7.9"/>
<circle cx="1231.1" cy="358.0" r="7.9"/>
<circle cx="1110.7" cy="390.4" r="7.9"/>
<circle cx="1093.5" cy="401.0" r="7.9"/>
<circle cx="1099.2" cy="409.0" r="7.9"/>
<circle cx="1104.9" cy="413.4" r="7.9"/>
<circle cx="1145.1" cy="412.4" r="7.9"/>
<circle cx="1036.1" cy="426.2" r="7.9"/>
<circle cx="1070.5" cy="430.0" r="7.9"/>
<circle cx="1087.7" cy="425.2" r="7.9"/>
<circle cx="1116.4" cy="425.2" r="7.9"/>
<circle cx="1099.2" cy="429.8" r="7.9"/>
<circle cx="1076.3" cy="484.0" r="7.9"/>
<circle cx="1082.0" cy="521.4" r="7.9"/>
</g>
<g class="dv" text-anchor="middle">
<text x="715.0" y="678.9">−1.0</text>
<text x="852.6" y="678.9">−0.5</text>
<text x="990.2" y="678.9">0.0</text>
<text x="1127.9" y="678.9">0.5</text>
<text x="1265.5" y="678.9">1.0</text>
</g>
<g class="dv" text-anchor="end">
<text x="697.4" y="98.4">6</text>
<text x="697.4" y="190.2">4</text>
<text x="697.4" y="282.1">2</text>
<text x="697.4" y="373.9">0</text>
<text x="697.4" y="465.7">−2</text>
<text x="697.4" y="557.6">−4</text>
<text x="697.4" y="649.4">−6</text>
</g>
<text class="dv" x="1284.3" y="19.4">1</text>
<text class="dv" x="1336.3" y="64.8">1</text>
<g transform="translate(797.8 713.0)"><g font-size="29" text-anchor="middle" stroke="#1a1a1a" stroke-width="0.35"><text class="it" x="43.2" y="0">Contra</text><text class="dv" style="font-size:28px" stroke-width="0.2" x="146.1" y="0">←</text><text x="234.6" y="0" font-size="28" letter-spacing="0.45"><tspan font-family="Liberation Serif,serif" font-size="29">Δ</tspan><tspan class="it">t</tspan><tspan dx="8">[</tspan><tspan class="it">ms</tspan><tspan>]</tspan></text><text class="dv" style="font-size:28px" stroke-width="0.2" x="318.8" y="0">→</text><text class="it" x="400.8" y="0">Ipsi</text></g></g>
<g transform="translate(638.5 573.3) rotate(-90)"><g font-size="29" text-anchor="middle" stroke="#1a1a1a" stroke-width="0.35"><text class="it" x="42.5" y="0">Contra</text><text class="dv" style="font-size:28px" stroke-width="0.2" x="144.0" y="0">←</text><text x="231.3" y="0" font-size="28" letter-spacing="0.45"><tspan font-family="Liberation Serif,serif" font-size="29">Δ</tspan><tspan class="it">A</tspan><tspan dx="8">[</tspan><tspan class="it">dB</tspan><tspan>]</tspan></text><text class="dv" style="font-size:28px" stroke-width="0.2" x="317.0" y="0">→</text><text class="it" x="399.1" y="0">Ipsi</text></g></g>
</svg></body></html>
